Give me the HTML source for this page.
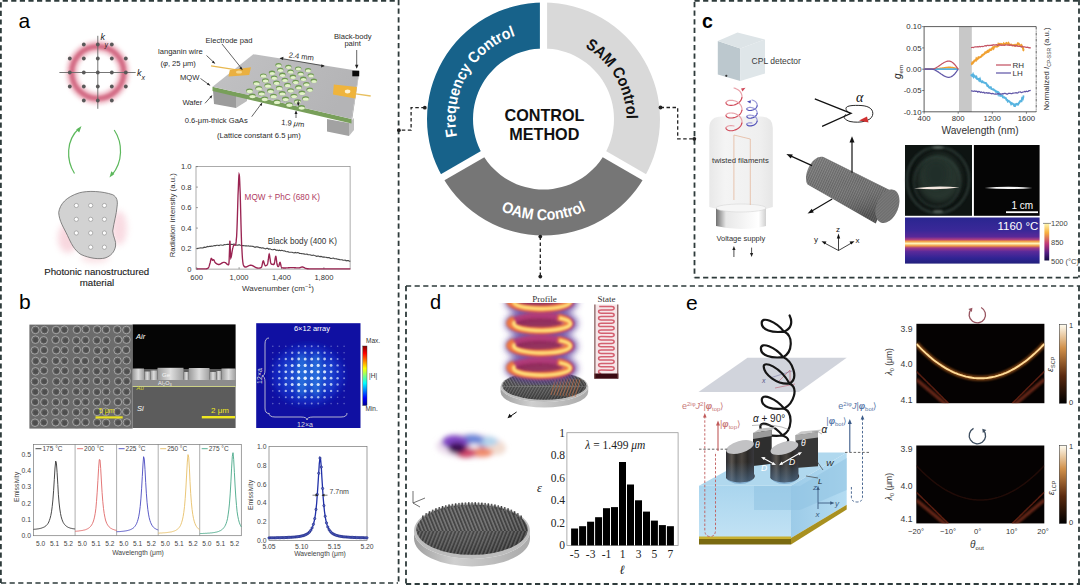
<!DOCTYPE html>
<html><head><meta charset="utf-8">
<style>
html,body{margin:0;padding:0;background:#fff;width:1080px;height:586px;overflow:hidden}
svg{position:absolute;left:0;top:0;display:block}
text{font-family:"Liberation Sans",sans-serif}
.sr{font-family:"Liberation Serif",serif}
</style></head><body>
<svg width="1080" height="586" viewBox="0 0 1080 586">
<defs>
<filter id="blur1" x="-50%" y="-50%" width="200%" height="200%"><feGaussianBlur stdDeviation="1"/></filter>
<filter id="blur2" x="-50%" y="-50%" width="200%" height="200%"><feGaussianBlur stdDeviation="2"/></filter>
<filter id="blur3" x="-50%" y="-50%" width="200%" height="200%"><feGaussianBlur stdDeviation="3"/></filter>
<filter id="blur05" x="-50%" y="-50%" width="200%" height="200%"><feGaussianBlur stdDeviation="0.5"/></filter>
</defs>

<g id="pa"><circle cx="97.8" cy="72.5" r="26" fill="none" stroke="#e8a0b0" stroke-width="10" filter="url(#blur2)" opacity="0.9"/><circle cx="97.8" cy="72.5" r="26" fill="none" stroke="#d47088" stroke-width="4.5" filter="url(#blur1)"/><g stroke="#666" stroke-width="0.9"><line x1="59.4" y1="72.5" x2="135.7" y2="72.5"/><line x1="97.8" y1="35.8" x2="97.8" y2="108.8"/></g><g fill="#595959"><circle cx="69.8" cy="58.5" r="1.9"/><circle cx="69.8" cy="72.5" r="1.9"/><circle cx="69.8" cy="86.5" r="1.9"/><circle cx="83.8" cy="44.5" r="1.9"/><circle cx="83.8" cy="58.5" r="1.9"/><circle cx="83.8" cy="72.5" r="1.9"/><circle cx="83.8" cy="86.5" r="1.9"/><circle cx="83.8" cy="100.5" r="1.9"/><circle cx="97.8" cy="44.5" r="1.9"/><circle cx="97.8" cy="58.5" r="1.9"/><circle cx="97.8" cy="72.5" r="1.9"/><circle cx="97.8" cy="86.5" r="1.9"/><circle cx="97.8" cy="100.5" r="1.9"/><circle cx="111.8" cy="44.5" r="1.9"/><circle cx="111.8" cy="58.5" r="1.9"/><circle cx="111.8" cy="72.5" r="1.9"/><circle cx="111.8" cy="86.5" r="1.9"/><circle cx="111.8" cy="100.5" r="1.9"/><circle cx="125.8" cy="58.5" r="1.9"/><circle cx="125.8" cy="72.5" r="1.9"/><circle cx="125.8" cy="86.5" r="1.9"/></g><g font-style="italic" fill="#222"><text x="100.5" y="40" font-size="9">k</text><text x="104.5" y="46.5" font-size="7">y</text><text x="137" y="76" font-size="9">k</text><text x="141.5" y="80" font-size="7">x</text></g><g fill="none" stroke="#5cb85c" stroke-width="1.2"><path d="M74.5,173.5 C66,160 66,140 79,128.5"/><path d="M114.2,130 C123,143 123,162 111.9,175"/></g><g fill="#5cb85c"><path d="M81.5,126 L79.2,132.5 L76.2,129.6 Z"/><path d="M109.5,177.5 L111.3,171.2 L114.4,174 Z"/></g><g filter="url(#blur3)" opacity="0.45"><ellipse cx="68" cy="238" rx="10" ry="15" fill="#f0a8b8"/><ellipse cx="119" cy="228" rx="8" ry="17" fill="#f2b0c0"/><ellipse cx="95" cy="258" rx="14" ry="5" fill="#f4c0c8"/></g><path d="M58.7,212.4 C60,204 66,197 79.3,192.8 C88,190.5 102,191 112.7,194.7 C117,197 118,201 117,207 C116.5,214 114,222 112.7,231 C113,237 116.5,241 115.6,246 C114.5,252 111,256 105,258 C99,259.5 90,258.5 81,254.5 C74,250 71,243 67.5,235.5 C64,228 59,221 58.7,212.4 Z" fill="#d2d2d2" stroke="#6a6a6a" stroke-width="0.8"/><g fill="#fff" stroke="#8a8a8a" stroke-width="0.6"><circle cx="76.3" cy="205.5" r="2.1"/><circle cx="90.7" cy="205.5" r="2.1"/><circle cx="104.4" cy="205.5" r="2.1"/><circle cx="76.3" cy="219.3" r="2.1"/><circle cx="90.7" cy="219.3" r="2.1"/><circle cx="104.4" cy="219.3" r="2.1"/><circle cx="76.3" cy="233.0" r="2.1"/><circle cx="90.7" cy="233.0" r="2.1"/><circle cx="104.4" cy="233.0" r="2.1"/><circle cx="90.7" cy="247.2" r="2.1"/><circle cx="104.4" cy="247.2" r="2.1"/></g><g fill="#1a1a1a" font-size="9.7" text-anchor="middle" stroke="#1a1a1a" stroke-width="0.12"><text x="96.7" y="274.6">Photonic nanostructured</text><text x="97" y="286.2">material</text></g><path d="M213,90 L236,95 L236,108 L214,104 Z" fill="#9c9c9c"/><path d="M236,95 L247,89 L247,101 L236,108 Z" fill="#bcbcbc"/><path d="M327,119 L349,123 L349,136 L327,131.4 Z" fill="#a2a2a2"/><path d="M349,123 L354,118 L354,130 L349,136 Z" fill="#c0c0c0"/><path d="M212.5,86.7 L351.5,119.0 L351.5,123.4 L212.5,91.1 Z" fill="#789f5a"/><path d="M351.5,119.0 L359.2,71.0 L359.2,73.0 L351.5,123.4 Z" fill="#9a9a9a"/><defs><linearGradient id="slab" x1="0" y1="0" x2="1" y2="0.3"><stop offset="0" stop-color="#c2c2c4"/><stop offset="1" stop-color="#b4b4b6"/></linearGradient><clipPath id="slabclip"><path d="M212.5,86.7 L253.3,54.2 L359.2,71.0 L351.5,123.4 L212.5,91.1 Z"/></clipPath></defs><path d="M212.5,86.7 L253.3,54.2 L359.2,71.0 L351.5,119.0 Z" fill="url(#slab)"/><g clip-path="url(#slabclip)"><ellipse cx="252.3" cy="95.9" rx="3.5" ry="2.3" fill="#6e9a50"/><ellipse cx="252.5" cy="96.6" rx="3.1" ry="1.7" fill="#e2f2c8"/><ellipse cx="264.6" cy="98.8" rx="3.5" ry="2.3" fill="#6e9a50"/><ellipse cx="264.8" cy="99.5" rx="3.1" ry="1.7" fill="#e2f2c8"/><ellipse cx="276.9" cy="101.7" rx="3.5" ry="2.3" fill="#6e9a50"/><ellipse cx="277.1" cy="102.4" rx="3.1" ry="1.7" fill="#e2f2c8"/><ellipse cx="289.2" cy="104.5" rx="3.5" ry="2.3" fill="#6e9a50"/><ellipse cx="289.4" cy="105.2" rx="3.1" ry="1.7" fill="#e2f2c8"/><ellipse cx="301.5" cy="107.4" rx="3.5" ry="2.3" fill="#6e9a50"/><ellipse cx="301.7" cy="108.1" rx="3.1" ry="1.7" fill="#e2f2c8"/><ellipse cx="249.5" cy="90.7" rx="3.4" ry="2.3" fill="#6e9a50"/><ellipse cx="249.7" cy="91.4" rx="3.1" ry="1.7" fill="#e2f2c8"/><ellipse cx="261.5" cy="93.4" rx="3.4" ry="2.3" fill="#6e9a50"/><ellipse cx="261.7" cy="94.1" rx="3.1" ry="1.7" fill="#e2f2c8"/><ellipse cx="273.5" cy="96.1" rx="3.4" ry="2.3" fill="#6e9a50"/><ellipse cx="273.7" cy="96.8" rx="3.1" ry="1.7" fill="#e2f2c8"/><ellipse cx="285.5" cy="98.9" rx="3.4" ry="2.3" fill="#6e9a50"/><ellipse cx="285.7" cy="99.6" rx="3.1" ry="1.7" fill="#e2f2c8"/><ellipse cx="297.5" cy="101.6" rx="3.4" ry="2.3" fill="#6e9a50"/><ellipse cx="297.7" cy="102.3" rx="3.1" ry="1.7" fill="#e2f2c8"/><ellipse cx="258.8" cy="88.2" rx="3.4" ry="2.2" fill="#6e9a50"/><ellipse cx="259.0" cy="88.9" rx="3.0" ry="1.6" fill="#e2f2c8"/><ellipse cx="270.5" cy="90.8" rx="3.4" ry="2.2" fill="#6e9a50"/><ellipse cx="270.7" cy="91.5" rx="3.0" ry="1.6" fill="#e2f2c8"/><ellipse cx="282.2" cy="93.3" rx="3.4" ry="2.2" fill="#6e9a50"/><ellipse cx="282.4" cy="94.0" rx="3.0" ry="1.6" fill="#e2f2c8"/><ellipse cx="293.9" cy="95.9" rx="3.4" ry="2.2" fill="#6e9a50"/><ellipse cx="294.1" cy="96.6" rx="3.0" ry="1.6" fill="#e2f2c8"/><ellipse cx="305.6" cy="98.5" rx="3.4" ry="2.2" fill="#6e9a50"/><ellipse cx="305.8" cy="99.2" rx="3.0" ry="1.6" fill="#e2f2c8"/><ellipse cx="256.4" cy="83.1" rx="3.3" ry="2.2" fill="#6e9a50"/><ellipse cx="256.6" cy="83.8" rx="3.0" ry="1.6" fill="#e2f2c8"/><ellipse cx="267.8" cy="85.5" rx="3.3" ry="2.2" fill="#6e9a50"/><ellipse cx="268.0" cy="86.2" rx="3.0" ry="1.6" fill="#e2f2c8"/><ellipse cx="279.2" cy="88.0" rx="3.3" ry="2.2" fill="#6e9a50"/><ellipse cx="279.4" cy="88.7" rx="3.0" ry="1.6" fill="#e2f2c8"/><ellipse cx="290.6" cy="90.4" rx="3.3" ry="2.2" fill="#6e9a50"/><ellipse cx="290.8" cy="91.1" rx="3.0" ry="1.6" fill="#e2f2c8"/><ellipse cx="301.9" cy="92.8" rx="3.3" ry="2.2" fill="#6e9a50"/><ellipse cx="302.1" cy="93.5" rx="3.0" ry="1.6" fill="#e2f2c8"/><ellipse cx="265.4" cy="80.4" rx="3.3" ry="2.2" fill="#6e9a50"/><ellipse cx="265.6" cy="81.1" rx="2.9" ry="1.6" fill="#e2f2c8"/><ellipse cx="276.5" cy="82.7" rx="3.3" ry="2.2" fill="#6e9a50"/><ellipse cx="276.7" cy="83.4" rx="2.9" ry="1.6" fill="#e2f2c8"/><ellipse cx="287.5" cy="85.0" rx="3.3" ry="2.2" fill="#6e9a50"/><ellipse cx="287.7" cy="85.7" rx="2.9" ry="1.6" fill="#e2f2c8"/><ellipse cx="298.6" cy="87.3" rx="3.3" ry="2.2" fill="#6e9a50"/><ellipse cx="298.8" cy="88.0" rx="2.9" ry="1.6" fill="#e2f2c8"/><ellipse cx="309.7" cy="89.6" rx="3.3" ry="2.2" fill="#6e9a50"/><ellipse cx="309.9" cy="90.3" rx="2.9" ry="1.6" fill="#e2f2c8"/><ellipse cx="263.3" cy="75.5" rx="3.2" ry="2.1" fill="#6e9a50"/><ellipse cx="263.5" cy="76.2" rx="2.9" ry="1.6" fill="#e2f2c8"/><ellipse cx="274.1" cy="77.6" rx="3.2" ry="2.1" fill="#6e9a50"/><ellipse cx="274.3" cy="78.3" rx="2.9" ry="1.6" fill="#e2f2c8"/><ellipse cx="284.8" cy="79.8" rx="3.2" ry="2.1" fill="#6e9a50"/><ellipse cx="285.0" cy="80.5" rx="2.9" ry="1.6" fill="#e2f2c8"/><ellipse cx="295.6" cy="81.9" rx="3.2" ry="2.1" fill="#6e9a50"/><ellipse cx="295.8" cy="82.6" rx="2.9" ry="1.6" fill="#e2f2c8"/><ellipse cx="306.4" cy="84.1" rx="3.2" ry="2.1" fill="#6e9a50"/><ellipse cx="306.6" cy="84.8" rx="2.9" ry="1.6" fill="#e2f2c8"/><ellipse cx="272.0" cy="72.7" rx="3.2" ry="2.1" fill="#6e9a50"/><ellipse cx="272.2" cy="73.4" rx="2.8" ry="1.5" fill="#e2f2c8"/><ellipse cx="282.4" cy="74.7" rx="3.2" ry="2.1" fill="#6e9a50"/><ellipse cx="282.6" cy="75.4" rx="2.8" ry="1.5" fill="#e2f2c8"/><ellipse cx="292.9" cy="76.7" rx="3.2" ry="2.1" fill="#6e9a50"/><ellipse cx="293.1" cy="77.4" rx="2.8" ry="1.5" fill="#e2f2c8"/><ellipse cx="303.3" cy="78.7" rx="3.2" ry="2.1" fill="#6e9a50"/><ellipse cx="303.5" cy="79.4" rx="2.8" ry="1.5" fill="#e2f2c8"/><ellipse cx="313.8" cy="80.7" rx="3.2" ry="2.1" fill="#6e9a50"/><ellipse cx="314.0" cy="81.4" rx="2.8" ry="1.5" fill="#e2f2c8"/><ellipse cx="280.3" cy="69.8" rx="3.1" ry="2.0" fill="#6e9a50"/><ellipse cx="280.5" cy="70.5" rx="2.8" ry="1.5" fill="#e2f2c8"/><ellipse cx="290.5" cy="71.6" rx="3.1" ry="2.0" fill="#6e9a50"/><ellipse cx="290.7" cy="72.3" rx="2.8" ry="1.5" fill="#e2f2c8"/><ellipse cx="300.6" cy="73.5" rx="3.1" ry="2.0" fill="#6e9a50"/><ellipse cx="300.8" cy="74.2" rx="2.8" ry="1.5" fill="#e2f2c8"/><ellipse cx="310.8" cy="75.3" rx="3.1" ry="2.0" fill="#6e9a50"/><ellipse cx="311.0" cy="76.0" rx="2.8" ry="1.5" fill="#e2f2c8"/><ellipse cx="278.5" cy="65.0" rx="3.1" ry="2.0" fill="#6e9a50"/><ellipse cx="278.7" cy="65.7" rx="2.7" ry="1.5" fill="#e2f2c8"/><ellipse cx="288.4" cy="66.7" rx="3.1" ry="2.0" fill="#6e9a50"/><ellipse cx="288.6" cy="67.4" rx="2.7" ry="1.5" fill="#e2f2c8"/><ellipse cx="298.2" cy="68.4" rx="3.1" ry="2.0" fill="#6e9a50"/><ellipse cx="298.4" cy="69.1" rx="2.7" ry="1.5" fill="#e2f2c8"/><ellipse cx="308.1" cy="70.1" rx="3.1" ry="2.0" fill="#6e9a50"/><ellipse cx="308.3" cy="70.8" rx="2.7" ry="1.5" fill="#e2f2c8"/></g><path d="M211,65.8 L238.3,70.2" stroke="#e8b850" stroke-width="1.3"/><path d="M229.8,70 L251,67.3 L249.2,75 L228.5,76.5 Z" fill="#eab040"/><ellipse cx="239" cy="72" rx="3" ry="1.6" fill="#f6d890"/><path d="M355.8,93.8 L370.7,96" stroke="#e8c060" stroke-width="1.3"/><path d="M333.8,84.6 L356.9,86.9 L355.3,98.4 L333,94.5 Z" fill="#efb43c"/><ellipse cx="347.6" cy="91.5" rx="2.8" ry="1.9" fill="#fff2d0"/><rect x="352.3" y="70.7" width="6.9" height="5.6" fill="#0a0a0a"/><g stroke="#222" stroke-width="0.7" fill="none"><path d="M222,44 L242,69"/><path d="M206.5,55.5 L214.5,63"/><path d="M200.5,78.5 L209.5,85"/><path d="M205,103.3 L211.5,96"/><path d="M251.7,116.7 L261.5,103.5"/><path d="M356.7,50 L356.7,67.5"/><path d="M280.5,58.4 L323.8,65.8"/><path d="M296,118 L296,111.5"/><path d="M298.3,100.5 L298.3,105"/></g><g fill="#222"><path d="M242.8,70.2 L239.3,68.3 L241.2,66.8 Z"/><path d="M215.3,63.8 L211.8,62.5 L213.4,60.8 Z"/><path d="M210.5,85.8 L206.8,84.5 L208.2,82.7 Z"/><path d="M212.3,95 L211.3,98.5 L209.5,97 Z"/><path d="M262.3,102.5 L261.6,106 L259.7,104.8 Z"/><path d="M356.7,68.7 L355,64.8 L358.4,64.8 Z"/><path d="M279.5,58.2 L283.5,56.8 L283,60 Z"/><path d="M324.8,66 L321,67.5 L321.4,64.3 Z"/><path d="M296,110.5 L294.5,114 L297.5,114 Z"/><path d="M298.3,106 L296.8,102.5 L299.8,102.5 Z"/></g><g fill="#2a2a2a" font-size="7.6"><text x="205.5" y="42.5">Electrode pad</text><text x="158" y="54">langanin wire</text><text x="160.4" y="65.5">(<tspan font-style="italic">φ</tspan>, 25 μm)</text><text x="180" y="79.5">MQW</text><text x="182.4" y="105">Wafer</text><text x="184.7" y="122.8">0.6-μm-thick GaAs</text><text x="281" y="124.7" transform="rotate(6 281 124.7)">1.9 <tspan font-style="italic">μ</tspan>m</text><text x="217" y="137.8">(Lattice constant 6.5 μm)</text><text x="288.5" y="57.5" transform="rotate(7 288.5 57.5)">2.4 mm</text><text x="334" y="38.5">Black-body</text><text x="344.4" y="46">paint</text></g><rect x="196.0" y="166.6" width="154.1" height="102.5" fill="none" stroke="#888" stroke-width="0.7"/><g stroke="#666" stroke-width="0.6"><line x1="196.0" y1="269.1" x2="198.0" y2="269.1"/><line x1="196.0" y1="248.6" x2="198.0" y2="248.6"/><line x1="196.0" y1="228.1" x2="198.0" y2="228.1"/><line x1="196.0" y1="207.6" x2="198.0" y2="207.6"/><line x1="196.0" y1="187.1" x2="198.0" y2="187.1"/><line x1="196.0" y1="166.6" x2="198.0" y2="166.6"/><line x1="196.7" y1="269.1" x2="196.7" y2="267.1"/><line x1="239.1" y1="269.1" x2="239.1" y2="267.1"/><line x1="281.5" y1="269.1" x2="281.5" y2="267.1"/><line x1="323.9" y1="269.1" x2="323.9" y2="267.1"/></g><g fill="#333" font-size="7.6" text-anchor="end"><text x="191.5" y="271.8">0</text><text x="191.5" y="251.3">0.2</text><text x="191.5" y="230.8">0.4</text><text x="191.5" y="210.3">0.6</text><text x="191.5" y="189.8">0.8</text><text x="191.5" y="169.3">1.0</text></g><g fill="#333" font-size="7.6" text-anchor="middle"><text x="196.7" y="280">600</text><text x="239.1" y="280">1,000</text><text x="281.5" y="280">1,400</text><text x="323.9" y="280">1,800</text></g><text x="278" y="291.3" font-size="8" fill="#333" text-anchor="middle">Wavenumber (cm<tspan dy="-3" font-size="5.5">−1</tspan><tspan dy="3">)</tspan></text><text transform="translate(175,215.3) rotate(-90)" font-size="7.8" fill="#333" text-anchor="middle">Radiation intensity (a.u.)</text><polyline points="196.7,248.8 197.8,248.4 198.8,248.3 199.9,248.0 200.9,247.8 202.0,248.0 203.1,247.9 204.1,247.1 205.2,247.4 206.2,247.2 207.3,246.4 208.4,246.7 209.4,246.2 210.5,246.4 211.5,246.1 212.6,246.3 213.7,245.8 214.7,245.5 215.8,245.6 216.8,245.3 217.9,245.3 219.0,245.6 220.0,245.0 221.1,245.0 222.1,245.2 223.2,245.3 224.3,244.5 225.3,244.8 226.4,244.5 227.4,244.3 228.5,244.4 229.6,244.2 230.6,244.6 231.7,244.3 232.7,244.5 233.8,244.1 234.9,244.3 235.9,245.0 237.0,245.1 238.0,245.2 239.1,244.7 240.2,245.2 241.2,245.2 242.3,245.6 243.3,245.6 244.4,245.8 245.5,245.9 246.5,245.9 247.6,246.0 248.6,245.9 249.7,246.2 250.8,246.1 251.8,246.3 252.9,246.4 253.9,246.8 255.0,247.3 256.1,246.9 257.1,246.9 258.2,247.1 259.2,247.6 260.3,247.6 261.4,248.1 262.4,247.8 263.5,248.1 264.5,248.5 265.6,248.8 266.7,248.3 267.7,248.4 268.8,249.3 269.8,248.8 270.9,249.3 272.0,249.6 273.0,249.7 274.1,249.4 275.1,249.5 276.2,250.3 277.3,250.0 278.3,250.6 279.4,250.2 280.4,250.7 281.5,250.4 282.6,250.5 283.6,251.0 284.7,250.8 285.7,251.5 286.8,251.8 287.9,251.5 288.9,252.2 290.0,252.2 291.0,252.2 292.1,252.2 293.2,252.7 294.2,252.9 295.3,252.4 296.3,253.0 297.4,252.6 298.5,252.8 299.5,253.4 300.6,253.5 301.6,253.6 302.7,253.7 303.8,253.9 304.8,254.1 305.9,254.2 306.9,254.1 308.0,254.6 309.1,254.8 310.1,254.7 311.2,255.3 312.2,255.4 313.3,255.0 314.4,255.5 315.4,255.7 316.5,256.3 317.5,256.1 318.6,256.1 319.7,256.7 320.7,256.4 321.8,256.6 322.8,257.2 323.9,256.9 325.0,257.2 326.0,257.2 327.1,257.6 328.1,257.5 329.2,257.6 330.3,258.4 331.3,258.5 332.4,258.2 333.4,258.1 334.5,258.8 335.6,258.8 336.6,258.9 337.7,259.3 338.7,259.4 339.8,259.6 340.9,259.7 341.9,259.7 343.0,260.1 344.0,260.2 345.1,260.0 346.2,260.8 347.2,260.5 348.3,260.6 349.3,261.1 350.4,261.3" fill="none" stroke="#4a4a4a" stroke-width="1.1"/><polyline points="196.7,268.8 196.9,268.8 197.1,268.8 197.3,268.8 197.5,268.8 197.8,268.8 198.0,268.8 198.2,268.8 198.4,268.8 198.6,268.8 198.8,268.8 199.0,268.8 199.2,268.8 199.5,268.8 199.7,268.8 199.9,268.8 200.1,268.8 200.3,268.8 200.5,268.8 200.7,268.8 200.9,268.8 201.2,268.8 201.4,268.8 201.6,268.8 201.8,268.8 202.0,268.8 202.2,268.8 202.4,268.8 202.6,268.8 202.8,268.8 203.1,268.8 203.3,268.8 203.5,268.8 203.7,268.8 203.9,268.8 204.1,268.8 204.3,268.8 204.5,268.8 204.8,268.8 205.0,268.8 205.2,268.8 205.4,268.8 205.6,268.8 205.8,268.8 206.0,268.8 206.2,268.8 206.5,268.7 206.7,268.7 206.9,268.7 207.1,268.6 207.3,268.6 207.5,268.5 207.7,268.4 207.9,268.2 208.1,268.0 208.4,267.8 208.6,267.4 208.8,267.0 209.0,266.5 209.2,265.9 209.4,265.3 209.6,264.6 209.8,263.8 210.1,263.0 210.3,262.1 210.5,261.2 210.7,260.2 210.9,259.3 211.1,258.6 211.3,258.3 211.5,258.3 211.8,258.8 212.0,259.3 212.2,259.8 212.4,260.2 212.6,260.3 212.8,260.2 213.0,260.0 213.2,259.8 213.4,259.7 213.7,259.8 213.9,260.0 214.1,260.3 214.3,260.8 214.5,261.3 214.7,261.7 214.9,262.1 215.1,262.5 215.4,262.7 215.6,263.0 215.8,263.2 216.0,263.3 216.2,263.5 216.4,263.6 216.6,263.8 216.8,263.9 217.1,264.0 217.3,264.1 217.5,264.2 217.7,264.3 217.9,264.4 218.1,264.4 218.3,264.5 218.5,264.5 218.7,264.5 219.0,264.5 219.2,264.5 219.4,264.4 219.6,264.4 219.8,264.3 220.0,264.2 220.2,264.1 220.4,264.0 220.7,263.9 220.9,263.8 221.1,263.6 221.3,263.5 221.5,263.3 221.7,263.2 221.9,263.1 222.1,262.9 222.4,262.8 222.6,262.7 222.8,262.6 223.0,262.5 223.2,262.4 223.4,262.3 223.6,262.3 223.8,262.3 224.0,262.3 224.3,262.3 224.5,262.3 224.7,262.4 224.9,262.5 225.1,262.6 225.3,262.7 225.5,262.8 225.7,263.0 226.0,263.1 226.2,263.3 226.4,263.5 226.6,263.7 226.8,263.9 227.0,264.1 227.2,264.2 227.4,264.4 227.7,264.5 227.9,264.6 228.1,264.7 228.3,264.7 228.5,264.7 228.7,264.4 228.9,263.6 229.1,261.1 229.3,255.6 229.6,247.8 229.8,241.3 230.0,240.7 230.2,245.9 230.4,252.5 230.6,256.7 230.8,258.0 231.0,257.6 231.3,256.6 231.5,255.4 231.7,254.2 231.9,252.9 232.1,251.7 232.3,250.5 232.5,249.3 232.7,248.3 233.0,247.4 233.2,246.6 233.4,246.0 233.6,245.5 233.8,245.1 234.0,244.9 234.2,244.9 234.4,244.9 234.6,245.0 234.9,245.2 235.1,245.3 235.3,245.2 235.5,245.0 235.7,244.4 235.9,243.4 236.1,241.9 236.3,239.6 236.6,236.7 236.8,232.8 237.0,228.2 237.2,222.7 237.4,216.4 237.6,209.7 237.8,202.7 238.0,195.7 238.3,189.1 238.5,183.4 238.7,178.8 238.9,175.7 239.1,174.3 239.3,174.8 239.5,177.0 239.7,181.0 239.9,186.5 240.2,193.2 240.4,200.7 240.6,208.6 240.8,216.6 241.0,224.4 241.2,231.6 241.4,238.2 241.6,244.0 241.9,248.9 242.1,253.0 242.3,256.3 242.5,259.0 242.7,261.0 242.9,262.6 243.1,263.8 243.3,264.7 243.6,265.4 243.8,265.9 244.0,266.2 244.2,266.5 244.4,266.7 244.6,266.8 244.8,266.9 245.0,267.0 245.2,267.0 245.5,267.0 245.7,267.0 245.9,267.0 246.1,267.0 246.3,266.9 246.5,266.8 246.7,266.8 246.9,266.7 247.2,266.6 247.4,266.5 247.6,266.4 247.8,266.2 248.0,266.1 248.2,266.0 248.4,265.9 248.6,265.8 248.9,265.7 249.1,265.6 249.3,265.5 249.5,265.4 249.7,265.4 249.9,265.3 250.1,265.3 250.3,265.2 250.5,265.2 250.8,265.2 251.0,265.2 251.2,265.2 251.4,265.3 251.6,265.3 251.8,265.4 252.0,265.4 252.2,265.5 252.5,265.6 252.7,265.7 252.9,265.8 253.1,265.9 253.3,266.1 253.5,266.2 253.7,266.3 253.9,266.4 254.2,266.6 254.4,266.7 254.6,266.8 254.8,267.0 255.0,267.1 255.2,267.2 255.4,267.3 255.6,267.4 255.8,267.5 256.1,267.6 256.3,267.7 256.5,267.8 256.7,267.8 256.9,267.9 257.1,268.0 257.3,268.0 257.5,268.0 257.8,268.1 258.0,268.1 258.2,268.1 258.4,268.1 258.6,268.1 258.8,268.1 259.0,268.1 259.2,268.1 259.5,268.1 259.7,268.1 259.9,268.0 260.1,268.0 260.3,267.9 260.5,267.9 260.7,267.8 260.9,267.7 261.1,267.5 261.4,267.3 261.6,266.9 261.8,266.3 262.0,265.6 262.2,264.7 262.4,263.7 262.6,262.7 262.8,261.7 263.1,261.1 263.3,260.8 263.5,260.9 263.7,261.4 263.9,262.1 264.1,262.9 264.3,263.8 264.5,264.5 264.8,265.0 265.0,265.4 265.2,265.6 265.4,265.7 265.6,265.7 265.8,265.7 266.0,265.6 266.2,265.5 266.4,265.4 266.7,265.3 266.9,265.1 267.1,264.9 267.3,264.6 267.5,264.2 267.7,263.4 267.9,262.4 268.1,260.9 268.4,259.2 268.6,257.4 268.8,255.8 269.0,254.6 269.2,254.1 269.4,254.5 269.6,255.6 269.8,257.1 270.1,258.8 270.3,260.4 270.5,261.8 270.7,262.7 270.9,263.4 271.1,263.8 271.3,264.0 271.5,264.1 271.7,264.2 272.0,264.2 272.2,264.3 272.4,264.3 272.6,264.4 272.8,264.4 273.0,264.5 273.2,264.5 273.4,264.5 273.7,264.5 273.9,264.4 274.1,264.1 274.3,263.6 274.5,262.8 274.7,261.7 274.9,260.3 275.1,258.9 275.4,257.5 275.6,256.6 275.8,256.4 276.0,256.8 276.2,257.9 276.4,259.5 276.6,261.1 276.8,262.7 277.0,264.0 277.3,265.0 277.5,265.7 277.7,266.1 277.9,266.4 278.1,266.5 278.3,266.5 278.5,266.4 278.7,266.1 279.0,265.5 279.2,264.8 279.4,263.9 279.6,263.1 279.8,262.4 280.0,262.3 280.2,262.6 280.4,263.3 280.7,264.3 280.9,265.3 281.1,266.2 281.3,266.8 281.5,267.3 281.7,267.6 281.9,267.7 282.1,267.8 282.3,267.9 282.6,267.9 282.8,267.9 283.0,267.9 283.2,268.0 283.4,268.0 283.6,268.0 283.8,268.0 284.0,268.0 284.3,268.0 284.5,268.0 284.7,268.0 284.9,268.0 285.1,268.0 285.3,268.0 285.5,268.0 285.7,268.0 286.0,267.9 286.2,267.9 286.4,267.9 286.6,267.9 286.8,267.9 287.0,267.9 287.2,267.8 287.4,267.8 287.6,267.8 287.9,267.8 288.1,267.8 288.3,267.7 288.5,267.7 288.7,267.7 288.9,267.7 289.1,267.7 289.3,267.7 289.6,267.6 289.8,267.6 290.0,267.6 290.2,267.6 290.4,267.6 290.6,267.6 290.8,267.6 291.0,267.6 291.3,267.6 291.5,267.6 291.7,267.6 291.9,267.6 292.1,267.6 292.3,267.6 292.5,267.6 292.7,267.6 292.9,267.6 293.2,267.6 293.4,267.6 293.6,267.6 293.8,267.6 294.0,267.6 294.2,267.6 294.4,267.7 294.6,267.7 294.9,267.7 295.1,267.7 295.3,267.7 295.5,267.7 295.7,267.8 295.9,267.8 296.1,267.8 296.3,267.8 296.6,267.8 296.8,267.9 297.0,267.9 297.2,267.9 297.4,267.9 297.6,267.9 297.8,267.9 298.0,267.9 298.2,267.9 298.5,267.9 298.7,267.9 298.9,267.9 299.1,267.9 299.3,267.8 299.5,267.8 299.7,267.7 299.9,267.7 300.2,267.6 300.4,267.5 300.6,267.4 300.8,267.3 301.0,267.3 301.2,267.2 301.4,267.1 301.6,267.1 301.9,267.0 302.1,267.0 302.3,267.0 302.5,267.0 302.7,267.0 302.9,267.1 303.1,267.1 303.3,267.2 303.5,267.3 303.8,267.4 304.0,267.5 304.2,267.6 304.4,267.7 304.6,267.8 304.8,268.0 305.0,268.1 305.2,268.2 305.5,268.3 305.7,268.3 305.9,268.4 306.1,268.5 306.3,268.5 306.5,268.6 306.7,268.6 306.9,268.6 307.2,268.7 307.4,268.7 307.6,268.7 307.8,268.7 308.0,268.7 308.2,268.7 308.4,268.8 308.6,268.8 308.8,268.8 309.1,268.8 309.3,268.8 309.5,268.8 309.7,268.8 309.9,268.8 310.1,268.8 310.3,268.8 310.5,268.8 310.8,268.8 311.0,268.8 311.2,268.8 311.4,268.8 311.6,268.8 311.8,268.8 312.0,268.8 312.2,268.8 312.5,268.8 312.7,268.8 312.9,268.8 313.1,268.8 313.3,268.8 313.5,268.8 313.7,268.8 313.9,268.8 314.1,268.8 314.4,268.8 314.6,268.8 314.8,268.8 315.0,268.8 315.2,268.8 315.4,268.8 315.6,268.8 315.8,268.8 316.1,268.8 316.3,268.8 316.5,268.8 316.7,268.8 316.9,268.8 317.1,268.8 317.3,268.8 317.5,268.8 317.8,268.8 318.0,268.8 318.2,268.8 318.4,268.8 318.6,268.8 318.8,268.8 319.0,268.8 319.2,268.8 319.4,268.8 319.7,268.8 319.9,268.8 320.1,268.8 320.3,268.8 320.5,268.8 320.7,268.8 320.9,268.8 321.1,268.8 321.4,268.8 321.6,268.8 321.8,268.8 322.0,268.8 322.2,268.8 322.4,268.8 322.6,268.8 322.8,268.8 323.1,268.8 323.3,268.8 323.5,268.8 323.7,268.8 323.9,268.8 324.1,268.8 324.3,268.8 324.5,268.8 324.7,268.8 325.0,268.8 325.2,268.8 325.4,268.8 325.6,268.8 325.8,268.8 326.0,268.8 326.2,268.8 326.4,268.8 326.7,268.8 326.9,268.8 327.1,268.8 327.3,268.8 327.5,268.8 327.7,268.8 327.9,268.8 328.1,268.8 328.4,268.8 328.6,268.8 328.8,268.8 329.0,268.8 329.2,268.8 329.4,268.8 329.6,268.8 329.8,268.8 330.0,268.8 330.3,268.8 330.5,268.8 330.7,268.8 330.9,268.8 331.1,268.8 331.3,268.8 331.5,268.8 331.7,268.8 332.0,268.8 332.2,268.8 332.4,268.8 332.6,268.8 332.8,268.8 333.0,268.8 333.2,268.8 333.4,268.8 333.7,268.8 333.9,268.8 334.1,268.8 334.3,268.8 334.5,268.8 334.7,268.8 334.9,268.8 335.1,268.8 335.3,268.8 335.6,268.8 335.8,268.8 336.0,268.8 336.2,268.8 336.4,268.8 336.6,268.8 336.8,268.8 337.0,268.8 337.3,268.8 337.5,268.8 337.7,268.8 337.9,268.8 338.1,268.8 338.3,268.8 338.5,268.8 338.7,268.8 339.0,268.8 339.2,268.8 339.4,268.8 339.6,268.8 339.8,268.8 340.0,268.8 340.2,268.8 340.4,268.8 340.6,268.8 340.9,268.8 341.1,268.8 341.3,268.8 341.5,268.8 341.7,268.8 341.9,268.8 342.1,268.8 342.3,268.8 342.6,268.8 342.8,268.8 343.0,268.8 343.2,268.8 343.4,268.8 343.6,268.8 343.8,268.8 344.0,268.8 344.3,268.8 344.5,268.8 344.7,268.8 344.9,268.8 345.1,268.8 345.3,268.8 345.5,268.8 345.7,268.8 345.9,268.8 346.2,268.8 346.4,268.8 346.6,268.8 346.8,268.8 347.0,268.8 347.2,268.8 347.4,268.8 347.6,268.8 347.9,268.8 348.1,268.8 348.3,268.8 348.5,268.8 348.7,268.8 348.9,268.8 349.1,268.8 349.3,268.8 349.6,268.8 349.8,268.8 350.0,268.8 350.2,268.8 350.4,268.8" fill="none" stroke="#9a2452" stroke-width="1.35"/><text x="244.6" y="199.7" font-size="8.2" fill="#b03a62">MQW + PhC (680 K)</text><text x="267.7" y="243.7" font-size="8.2" fill="#333">Black body (400 K)</text></g><g id="pb"><rect x="29.4" y="324.6" width="103.2" height="104.0" fill="#6c6c6c"/><defs><clipPath id="semclip"><rect x="29.4" y="324.6" width="103.2" height="104"/></clipPath></defs><g clip-path="url(#semclip)"><circle cx="35.4" cy="329.9" r="3.8" fill="#5e5e5e" stroke="#b4b4b4" stroke-width="0.8"/><circle cx="35.7" cy="330.2" r="2.2" fill="#4e4e4e"/><circle cx="44.5" cy="330.1" r="3.8" fill="#5e5e5e" stroke="#b4b4b4" stroke-width="0.8"/><circle cx="44.8" cy="330.4" r="2.2" fill="#4e4e4e"/><circle cx="56.1" cy="330.0" r="3.8" fill="#5e5e5e" stroke="#b4b4b4" stroke-width="0.8"/><circle cx="56.4" cy="330.3" r="2.2" fill="#4e4e4e"/><circle cx="64.3" cy="329.7" r="3.8" fill="#5e5e5e" stroke="#b4b4b4" stroke-width="0.8"/><circle cx="64.6" cy="330.0" r="2.2" fill="#4e4e4e"/><circle cx="76.9" cy="329.8" r="3.8" fill="#5e5e5e" stroke="#b4b4b4" stroke-width="0.8"/><circle cx="77.2" cy="330.1" r="2.2" fill="#4e4e4e"/><circle cx="85.8" cy="329.4" r="3.8" fill="#5e5e5e" stroke="#b4b4b4" stroke-width="0.8"/><circle cx="86.1" cy="329.7" r="2.2" fill="#4e4e4e"/><circle cx="97.1" cy="329.5" r="3.8" fill="#5e5e5e" stroke="#b4b4b4" stroke-width="0.8"/><circle cx="97.4" cy="329.8" r="2.2" fill="#4e4e4e"/><circle cx="106.0" cy="329.8" r="3.8" fill="#5e5e5e" stroke="#b4b4b4" stroke-width="0.8"/><circle cx="106.3" cy="330.1" r="2.2" fill="#4e4e4e"/><circle cx="117.2" cy="329.5" r="3.8" fill="#5e5e5e" stroke="#b4b4b4" stroke-width="0.8"/><circle cx="117.5" cy="329.8" r="2.2" fill="#4e4e4e"/><circle cx="126.4" cy="330.0" r="3.8" fill="#5e5e5e" stroke="#b4b4b4" stroke-width="0.8"/><circle cx="126.7" cy="330.3" r="2.2" fill="#4e4e4e"/><circle cx="138.6" cy="329.4" r="3.8" fill="#5e5e5e" stroke="#b4b4b4" stroke-width="0.8"/><circle cx="138.9" cy="329.7" r="2.2" fill="#4e4e4e"/><circle cx="147.5" cy="329.4" r="3.8" fill="#5e5e5e" stroke="#b4b4b4" stroke-width="0.8"/><circle cx="147.8" cy="329.7" r="2.2" fill="#4e4e4e"/><circle cx="35.4" cy="339.7" r="3.8" fill="#5e5e5e" stroke="#b4b4b4" stroke-width="0.8"/><circle cx="35.7" cy="340.0" r="2.2" fill="#4e4e4e"/><circle cx="43.7" cy="340.3" r="3.8" fill="#5e5e5e" stroke="#b4b4b4" stroke-width="0.8"/><circle cx="44.0" cy="340.6" r="2.2" fill="#4e4e4e"/><circle cx="55.6" cy="339.8" r="3.8" fill="#5e5e5e" stroke="#b4b4b4" stroke-width="0.8"/><circle cx="55.9" cy="340.1" r="2.2" fill="#4e4e4e"/><circle cx="65.3" cy="340.3" r="3.8" fill="#5e5e5e" stroke="#b4b4b4" stroke-width="0.8"/><circle cx="65.6" cy="340.6" r="2.2" fill="#4e4e4e"/><circle cx="76.3" cy="340.4" r="3.8" fill="#5e5e5e" stroke="#b4b4b4" stroke-width="0.8"/><circle cx="76.6" cy="340.7" r="2.2" fill="#4e4e4e"/><circle cx="85.4" cy="340.1" r="3.8" fill="#5e5e5e" stroke="#b4b4b4" stroke-width="0.8"/><circle cx="85.7" cy="340.4" r="2.2" fill="#4e4e4e"/><circle cx="96.8" cy="340.4" r="3.8" fill="#5e5e5e" stroke="#b4b4b4" stroke-width="0.8"/><circle cx="97.1" cy="340.7" r="2.2" fill="#4e4e4e"/><circle cx="106.2" cy="340.4" r="3.8" fill="#5e5e5e" stroke="#b4b4b4" stroke-width="0.8"/><circle cx="106.5" cy="340.7" r="2.2" fill="#4e4e4e"/><circle cx="118.1" cy="339.8" r="3.8" fill="#5e5e5e" stroke="#b4b4b4" stroke-width="0.8"/><circle cx="118.4" cy="340.1" r="2.2" fill="#4e4e4e"/><circle cx="126.5" cy="339.7" r="3.8" fill="#5e5e5e" stroke="#b4b4b4" stroke-width="0.8"/><circle cx="126.8" cy="340.0" r="2.2" fill="#4e4e4e"/><circle cx="137.9" cy="339.7" r="3.8" fill="#5e5e5e" stroke="#b4b4b4" stroke-width="0.8"/><circle cx="138.2" cy="340.0" r="2.2" fill="#4e4e4e"/><circle cx="147.0" cy="340.1" r="3.8" fill="#5e5e5e" stroke="#b4b4b4" stroke-width="0.8"/><circle cx="147.3" cy="340.4" r="2.2" fill="#4e4e4e"/><circle cx="34.8" cy="350.4" r="3.8" fill="#5e5e5e" stroke="#b4b4b4" stroke-width="0.8"/><circle cx="35.1" cy="350.7" r="2.2" fill="#4e4e4e"/><circle cx="44.0" cy="350.1" r="3.8" fill="#5e5e5e" stroke="#b4b4b4" stroke-width="0.8"/><circle cx="44.3" cy="350.4" r="2.2" fill="#4e4e4e"/><circle cx="56.2" cy="350.3" r="3.8" fill="#5e5e5e" stroke="#b4b4b4" stroke-width="0.8"/><circle cx="56.5" cy="350.6" r="2.2" fill="#4e4e4e"/><circle cx="64.6" cy="350.3" r="3.8" fill="#5e5e5e" stroke="#b4b4b4" stroke-width="0.8"/><circle cx="64.9" cy="350.6" r="2.2" fill="#4e4e4e"/><circle cx="76.7" cy="349.9" r="3.8" fill="#5e5e5e" stroke="#b4b4b4" stroke-width="0.8"/><circle cx="77.0" cy="350.2" r="2.2" fill="#4e4e4e"/><circle cx="85.9" cy="349.9" r="3.8" fill="#5e5e5e" stroke="#b4b4b4" stroke-width="0.8"/><circle cx="86.2" cy="350.2" r="2.2" fill="#4e4e4e"/><circle cx="97.3" cy="350.6" r="3.8" fill="#5e5e5e" stroke="#b4b4b4" stroke-width="0.8"/><circle cx="97.6" cy="350.9" r="2.2" fill="#4e4e4e"/><circle cx="105.5" cy="350.5" r="3.8" fill="#5e5e5e" stroke="#b4b4b4" stroke-width="0.8"/><circle cx="105.8" cy="350.8" r="2.2" fill="#4e4e4e"/><circle cx="117.6" cy="350.4" r="3.8" fill="#5e5e5e" stroke="#b4b4b4" stroke-width="0.8"/><circle cx="117.9" cy="350.7" r="2.2" fill="#4e4e4e"/><circle cx="126.1" cy="349.9" r="3.8" fill="#5e5e5e" stroke="#b4b4b4" stroke-width="0.8"/><circle cx="126.4" cy="350.2" r="2.2" fill="#4e4e4e"/><circle cx="138.0" cy="350.7" r="3.8" fill="#5e5e5e" stroke="#b4b4b4" stroke-width="0.8"/><circle cx="138.3" cy="351.0" r="2.2" fill="#4e4e4e"/><circle cx="146.9" cy="350.5" r="3.8" fill="#5e5e5e" stroke="#b4b4b4" stroke-width="0.8"/><circle cx="147.2" cy="350.8" r="2.2" fill="#4e4e4e"/><circle cx="35.7" cy="361.0" r="3.8" fill="#5e5e5e" stroke="#b4b4b4" stroke-width="0.8"/><circle cx="36.0" cy="361.3" r="2.2" fill="#4e4e4e"/><circle cx="44.0" cy="360.5" r="3.8" fill="#5e5e5e" stroke="#b4b4b4" stroke-width="0.8"/><circle cx="44.3" cy="360.8" r="2.2" fill="#4e4e4e"/><circle cx="55.9" cy="360.8" r="3.8" fill="#5e5e5e" stroke="#b4b4b4" stroke-width="0.8"/><circle cx="56.2" cy="361.1" r="2.2" fill="#4e4e4e"/><circle cx="64.4" cy="360.8" r="3.8" fill="#5e5e5e" stroke="#b4b4b4" stroke-width="0.8"/><circle cx="64.7" cy="361.1" r="2.2" fill="#4e4e4e"/><circle cx="76.8" cy="360.9" r="3.8" fill="#5e5e5e" stroke="#b4b4b4" stroke-width="0.8"/><circle cx="77.1" cy="361.2" r="2.2" fill="#4e4e4e"/><circle cx="84.9" cy="361.0" r="3.8" fill="#5e5e5e" stroke="#b4b4b4" stroke-width="0.8"/><circle cx="85.2" cy="361.3" r="2.2" fill="#4e4e4e"/><circle cx="96.7" cy="360.5" r="3.8" fill="#5e5e5e" stroke="#b4b4b4" stroke-width="0.8"/><circle cx="97.0" cy="360.8" r="2.2" fill="#4e4e4e"/><circle cx="106.1" cy="360.9" r="3.8" fill="#5e5e5e" stroke="#b4b4b4" stroke-width="0.8"/><circle cx="106.4" cy="361.2" r="2.2" fill="#4e4e4e"/><circle cx="117.5" cy="360.9" r="3.8" fill="#5e5e5e" stroke="#b4b4b4" stroke-width="0.8"/><circle cx="117.8" cy="361.2" r="2.2" fill="#4e4e4e"/><circle cx="126.6" cy="360.4" r="3.8" fill="#5e5e5e" stroke="#b4b4b4" stroke-width="0.8"/><circle cx="126.9" cy="360.7" r="2.2" fill="#4e4e4e"/><circle cx="138.1" cy="360.3" r="3.8" fill="#5e5e5e" stroke="#b4b4b4" stroke-width="0.8"/><circle cx="138.4" cy="360.6" r="2.2" fill="#4e4e4e"/><circle cx="146.8" cy="360.3" r="3.8" fill="#5e5e5e" stroke="#b4b4b4" stroke-width="0.8"/><circle cx="147.1" cy="360.6" r="2.2" fill="#4e4e4e"/><circle cx="35.5" cy="371.3" r="3.8" fill="#5e5e5e" stroke="#b4b4b4" stroke-width="0.8"/><circle cx="35.8" cy="371.6" r="2.2" fill="#4e4e4e"/><circle cx="43.9" cy="370.5" r="3.8" fill="#5e5e5e" stroke="#b4b4b4" stroke-width="0.8"/><circle cx="44.2" cy="370.8" r="2.2" fill="#4e4e4e"/><circle cx="56.4" cy="370.9" r="3.8" fill="#5e5e5e" stroke="#b4b4b4" stroke-width="0.8"/><circle cx="56.7" cy="371.2" r="2.2" fill="#4e4e4e"/><circle cx="64.7" cy="370.7" r="3.8" fill="#5e5e5e" stroke="#b4b4b4" stroke-width="0.8"/><circle cx="65.0" cy="371.0" r="2.2" fill="#4e4e4e"/><circle cx="76.6" cy="371.2" r="3.8" fill="#5e5e5e" stroke="#b4b4b4" stroke-width="0.8"/><circle cx="76.9" cy="371.5" r="2.2" fill="#4e4e4e"/><circle cx="85.4" cy="370.8" r="3.8" fill="#5e5e5e" stroke="#b4b4b4" stroke-width="0.8"/><circle cx="85.7" cy="371.1" r="2.2" fill="#4e4e4e"/><circle cx="96.7" cy="371.2" r="3.8" fill="#5e5e5e" stroke="#b4b4b4" stroke-width="0.8"/><circle cx="97.0" cy="371.5" r="2.2" fill="#4e4e4e"/><circle cx="105.5" cy="370.9" r="3.8" fill="#5e5e5e" stroke="#b4b4b4" stroke-width="0.8"/><circle cx="105.8" cy="371.2" r="2.2" fill="#4e4e4e"/><circle cx="118.0" cy="370.6" r="3.8" fill="#5e5e5e" stroke="#b4b4b4" stroke-width="0.8"/><circle cx="118.3" cy="370.9" r="2.2" fill="#4e4e4e"/><circle cx="126.8" cy="371.3" r="3.8" fill="#5e5e5e" stroke="#b4b4b4" stroke-width="0.8"/><circle cx="127.1" cy="371.6" r="2.2" fill="#4e4e4e"/><circle cx="138.4" cy="371.1" r="3.8" fill="#5e5e5e" stroke="#b4b4b4" stroke-width="0.8"/><circle cx="138.7" cy="371.4" r="2.2" fill="#4e4e4e"/><circle cx="146.8" cy="370.8" r="3.8" fill="#5e5e5e" stroke="#b4b4b4" stroke-width="0.8"/><circle cx="147.1" cy="371.1" r="2.2" fill="#4e4e4e"/><circle cx="34.9" cy="381.5" r="3.8" fill="#5e5e5e" stroke="#b4b4b4" stroke-width="0.8"/><circle cx="35.2" cy="381.8" r="2.2" fill="#4e4e4e"/><circle cx="44.0" cy="381.2" r="3.8" fill="#5e5e5e" stroke="#b4b4b4" stroke-width="0.8"/><circle cx="44.3" cy="381.5" r="2.2" fill="#4e4e4e"/><circle cx="56.4" cy="381.5" r="3.8" fill="#5e5e5e" stroke="#b4b4b4" stroke-width="0.8"/><circle cx="56.7" cy="381.8" r="2.2" fill="#4e4e4e"/><circle cx="65.3" cy="381.2" r="3.8" fill="#5e5e5e" stroke="#b4b4b4" stroke-width="0.8"/><circle cx="65.6" cy="381.5" r="2.2" fill="#4e4e4e"/><circle cx="76.5" cy="381.4" r="3.8" fill="#5e5e5e" stroke="#b4b4b4" stroke-width="0.8"/><circle cx="76.8" cy="381.7" r="2.2" fill="#4e4e4e"/><circle cx="85.4" cy="381.0" r="3.8" fill="#5e5e5e" stroke="#b4b4b4" stroke-width="0.8"/><circle cx="85.7" cy="381.3" r="2.2" fill="#4e4e4e"/><circle cx="97.0" cy="380.9" r="3.8" fill="#5e5e5e" stroke="#b4b4b4" stroke-width="0.8"/><circle cx="97.3" cy="381.2" r="2.2" fill="#4e4e4e"/><circle cx="105.9" cy="381.6" r="3.8" fill="#5e5e5e" stroke="#b4b4b4" stroke-width="0.8"/><circle cx="106.2" cy="381.9" r="2.2" fill="#4e4e4e"/><circle cx="118.2" cy="381.3" r="3.8" fill="#5e5e5e" stroke="#b4b4b4" stroke-width="0.8"/><circle cx="118.5" cy="381.6" r="2.2" fill="#4e4e4e"/><circle cx="126.6" cy="381.1" r="3.8" fill="#5e5e5e" stroke="#b4b4b4" stroke-width="0.8"/><circle cx="126.9" cy="381.4" r="2.2" fill="#4e4e4e"/><circle cx="137.9" cy="381.0" r="3.8" fill="#5e5e5e" stroke="#b4b4b4" stroke-width="0.8"/><circle cx="138.2" cy="381.3" r="2.2" fill="#4e4e4e"/><circle cx="147.5" cy="381.5" r="3.8" fill="#5e5e5e" stroke="#b4b4b4" stroke-width="0.8"/><circle cx="147.8" cy="381.8" r="2.2" fill="#4e4e4e"/><circle cx="35.2" cy="391.7" r="3.8" fill="#5e5e5e" stroke="#b4b4b4" stroke-width="0.8"/><circle cx="35.5" cy="392.0" r="2.2" fill="#4e4e4e"/><circle cx="44.5" cy="391.7" r="3.8" fill="#5e5e5e" stroke="#b4b4b4" stroke-width="0.8"/><circle cx="44.8" cy="392.0" r="2.2" fill="#4e4e4e"/><circle cx="56.1" cy="391.7" r="3.8" fill="#5e5e5e" stroke="#b4b4b4" stroke-width="0.8"/><circle cx="56.4" cy="392.0" r="2.2" fill="#4e4e4e"/><circle cx="64.7" cy="391.7" r="3.8" fill="#5e5e5e" stroke="#b4b4b4" stroke-width="0.8"/><circle cx="65.0" cy="392.0" r="2.2" fill="#4e4e4e"/><circle cx="76.3" cy="391.5" r="3.8" fill="#5e5e5e" stroke="#b4b4b4" stroke-width="0.8"/><circle cx="76.6" cy="391.8" r="2.2" fill="#4e4e4e"/><circle cx="85.7" cy="391.7" r="3.8" fill="#5e5e5e" stroke="#b4b4b4" stroke-width="0.8"/><circle cx="86.0" cy="392.0" r="2.2" fill="#4e4e4e"/><circle cx="96.9" cy="391.9" r="3.8" fill="#5e5e5e" stroke="#b4b4b4" stroke-width="0.8"/><circle cx="97.2" cy="392.2" r="2.2" fill="#4e4e4e"/><circle cx="106.1" cy="391.6" r="3.8" fill="#5e5e5e" stroke="#b4b4b4" stroke-width="0.8"/><circle cx="106.4" cy="391.9" r="2.2" fill="#4e4e4e"/><circle cx="117.2" cy="391.5" r="3.8" fill="#5e5e5e" stroke="#b4b4b4" stroke-width="0.8"/><circle cx="117.5" cy="391.8" r="2.2" fill="#4e4e4e"/><circle cx="126.4" cy="391.6" r="3.8" fill="#5e5e5e" stroke="#b4b4b4" stroke-width="0.8"/><circle cx="126.7" cy="391.9" r="2.2" fill="#4e4e4e"/><circle cx="138.3" cy="391.8" r="3.8" fill="#5e5e5e" stroke="#b4b4b4" stroke-width="0.8"/><circle cx="138.6" cy="392.1" r="2.2" fill="#4e4e4e"/><circle cx="147.3" cy="391.7" r="3.8" fill="#5e5e5e" stroke="#b4b4b4" stroke-width="0.8"/><circle cx="147.6" cy="392.0" r="2.2" fill="#4e4e4e"/><circle cx="35.1" cy="401.9" r="3.8" fill="#5e5e5e" stroke="#b4b4b4" stroke-width="0.8"/><circle cx="35.4" cy="402.2" r="2.2" fill="#4e4e4e"/><circle cx="44.4" cy="402.1" r="3.8" fill="#5e5e5e" stroke="#b4b4b4" stroke-width="0.8"/><circle cx="44.7" cy="402.4" r="2.2" fill="#4e4e4e"/><circle cx="55.8" cy="402.1" r="3.8" fill="#5e5e5e" stroke="#b4b4b4" stroke-width="0.8"/><circle cx="56.1" cy="402.4" r="2.2" fill="#4e4e4e"/><circle cx="65.2" cy="402.0" r="3.8" fill="#5e5e5e" stroke="#b4b4b4" stroke-width="0.8"/><circle cx="65.5" cy="402.3" r="2.2" fill="#4e4e4e"/><circle cx="77.0" cy="402.2" r="3.8" fill="#5e5e5e" stroke="#b4b4b4" stroke-width="0.8"/><circle cx="77.3" cy="402.5" r="2.2" fill="#4e4e4e"/><circle cx="85.4" cy="401.8" r="3.8" fill="#5e5e5e" stroke="#b4b4b4" stroke-width="0.8"/><circle cx="85.7" cy="402.1" r="2.2" fill="#4e4e4e"/><circle cx="96.8" cy="402.1" r="3.8" fill="#5e5e5e" stroke="#b4b4b4" stroke-width="0.8"/><circle cx="97.1" cy="402.4" r="2.2" fill="#4e4e4e"/><circle cx="106.4" cy="401.8" r="3.8" fill="#5e5e5e" stroke="#b4b4b4" stroke-width="0.8"/><circle cx="106.7" cy="402.1" r="2.2" fill="#4e4e4e"/><circle cx="117.9" cy="402.0" r="3.8" fill="#5e5e5e" stroke="#b4b4b4" stroke-width="0.8"/><circle cx="118.2" cy="402.3" r="2.2" fill="#4e4e4e"/><circle cx="126.8" cy="401.5" r="3.8" fill="#5e5e5e" stroke="#b4b4b4" stroke-width="0.8"/><circle cx="127.1" cy="401.8" r="2.2" fill="#4e4e4e"/><circle cx="138.6" cy="401.9" r="3.8" fill="#5e5e5e" stroke="#b4b4b4" stroke-width="0.8"/><circle cx="138.9" cy="402.2" r="2.2" fill="#4e4e4e"/><circle cx="147.4" cy="401.7" r="3.8" fill="#5e5e5e" stroke="#b4b4b4" stroke-width="0.8"/><circle cx="147.7" cy="402.0" r="2.2" fill="#4e4e4e"/><circle cx="35.4" cy="412.3" r="3.8" fill="#5e5e5e" stroke="#b4b4b4" stroke-width="0.8"/><circle cx="35.7" cy="412.6" r="2.2" fill="#4e4e4e"/><circle cx="44.3" cy="412.3" r="3.8" fill="#5e5e5e" stroke="#b4b4b4" stroke-width="0.8"/><circle cx="44.6" cy="412.6" r="2.2" fill="#4e4e4e"/><circle cx="55.4" cy="411.8" r="3.8" fill="#5e5e5e" stroke="#b4b4b4" stroke-width="0.8"/><circle cx="55.7" cy="412.1" r="2.2" fill="#4e4e4e"/><circle cx="64.7" cy="412.2" r="3.8" fill="#5e5e5e" stroke="#b4b4b4" stroke-width="0.8"/><circle cx="65.0" cy="412.5" r="2.2" fill="#4e4e4e"/><circle cx="76.2" cy="412.2" r="3.8" fill="#5e5e5e" stroke="#b4b4b4" stroke-width="0.8"/><circle cx="76.5" cy="412.5" r="2.2" fill="#4e4e4e"/><circle cx="85.5" cy="411.7" r="3.8" fill="#5e5e5e" stroke="#b4b4b4" stroke-width="0.8"/><circle cx="85.8" cy="412.0" r="2.2" fill="#4e4e4e"/><circle cx="97.1" cy="411.9" r="3.8" fill="#5e5e5e" stroke="#b4b4b4" stroke-width="0.8"/><circle cx="97.4" cy="412.2" r="2.2" fill="#4e4e4e"/><circle cx="105.6" cy="411.8" r="3.8" fill="#5e5e5e" stroke="#b4b4b4" stroke-width="0.8"/><circle cx="105.9" cy="412.1" r="2.2" fill="#4e4e4e"/><circle cx="117.5" cy="411.8" r="3.8" fill="#5e5e5e" stroke="#b4b4b4" stroke-width="0.8"/><circle cx="117.8" cy="412.1" r="2.2" fill="#4e4e4e"/><circle cx="126.3" cy="411.7" r="3.8" fill="#5e5e5e" stroke="#b4b4b4" stroke-width="0.8"/><circle cx="126.6" cy="412.0" r="2.2" fill="#4e4e4e"/><circle cx="138.3" cy="412.0" r="3.8" fill="#5e5e5e" stroke="#b4b4b4" stroke-width="0.8"/><circle cx="138.6" cy="412.3" r="2.2" fill="#4e4e4e"/><circle cx="147.3" cy="412.2" r="3.8" fill="#5e5e5e" stroke="#b4b4b4" stroke-width="0.8"/><circle cx="147.6" cy="412.5" r="2.2" fill="#4e4e4e"/><circle cx="35.0" cy="422.7" r="3.8" fill="#5e5e5e" stroke="#b4b4b4" stroke-width="0.8"/><circle cx="35.3" cy="423.0" r="2.2" fill="#4e4e4e"/><circle cx="43.7" cy="422.3" r="3.8" fill="#5e5e5e" stroke="#b4b4b4" stroke-width="0.8"/><circle cx="44.0" cy="422.6" r="2.2" fill="#4e4e4e"/><circle cx="55.7" cy="422.3" r="3.8" fill="#5e5e5e" stroke="#b4b4b4" stroke-width="0.8"/><circle cx="56.0" cy="422.6" r="2.2" fill="#4e4e4e"/><circle cx="64.4" cy="422.7" r="3.8" fill="#5e5e5e" stroke="#b4b4b4" stroke-width="0.8"/><circle cx="64.7" cy="423.0" r="2.2" fill="#4e4e4e"/><circle cx="76.4" cy="422.0" r="3.8" fill="#5e5e5e" stroke="#b4b4b4" stroke-width="0.8"/><circle cx="76.7" cy="422.3" r="2.2" fill="#4e4e4e"/><circle cx="85.5" cy="422.1" r="3.8" fill="#5e5e5e" stroke="#b4b4b4" stroke-width="0.8"/><circle cx="85.8" cy="422.4" r="2.2" fill="#4e4e4e"/><circle cx="97.1" cy="422.3" r="3.8" fill="#5e5e5e" stroke="#b4b4b4" stroke-width="0.8"/><circle cx="97.4" cy="422.6" r="2.2" fill="#4e4e4e"/><circle cx="106.1" cy="422.8" r="3.8" fill="#5e5e5e" stroke="#b4b4b4" stroke-width="0.8"/><circle cx="106.4" cy="423.1" r="2.2" fill="#4e4e4e"/><circle cx="118.0" cy="422.3" r="3.8" fill="#5e5e5e" stroke="#b4b4b4" stroke-width="0.8"/><circle cx="118.3" cy="422.6" r="2.2" fill="#4e4e4e"/><circle cx="126.9" cy="422.5" r="3.8" fill="#5e5e5e" stroke="#b4b4b4" stroke-width="0.8"/><circle cx="127.2" cy="422.8" r="2.2" fill="#4e4e4e"/><circle cx="138.2" cy="422.1" r="3.8" fill="#5e5e5e" stroke="#b4b4b4" stroke-width="0.8"/><circle cx="138.5" cy="422.4" r="2.2" fill="#4e4e4e"/><circle cx="147.3" cy="422.5" r="3.8" fill="#5e5e5e" stroke="#b4b4b4" stroke-width="0.8"/><circle cx="147.6" cy="422.8" r="2.2" fill="#4e4e4e"/><circle cx="35.8" cy="433.1" r="3.8" fill="#5e5e5e" stroke="#b4b4b4" stroke-width="0.8"/><circle cx="36.1" cy="433.4" r="2.2" fill="#4e4e4e"/><circle cx="44.3" cy="432.6" r="3.8" fill="#5e5e5e" stroke="#b4b4b4" stroke-width="0.8"/><circle cx="44.6" cy="432.9" r="2.2" fill="#4e4e4e"/><circle cx="56.3" cy="432.3" r="3.8" fill="#5e5e5e" stroke="#b4b4b4" stroke-width="0.8"/><circle cx="56.6" cy="432.6" r="2.2" fill="#4e4e4e"/><circle cx="64.4" cy="432.8" r="3.8" fill="#5e5e5e" stroke="#b4b4b4" stroke-width="0.8"/><circle cx="64.7" cy="433.1" r="2.2" fill="#4e4e4e"/><circle cx="76.6" cy="432.4" r="3.8" fill="#5e5e5e" stroke="#b4b4b4" stroke-width="0.8"/><circle cx="76.9" cy="432.7" r="2.2" fill="#4e4e4e"/><circle cx="85.5" cy="433.0" r="3.8" fill="#5e5e5e" stroke="#b4b4b4" stroke-width="0.8"/><circle cx="85.8" cy="433.3" r="2.2" fill="#4e4e4e"/><circle cx="97.0" cy="432.6" r="3.8" fill="#5e5e5e" stroke="#b4b4b4" stroke-width="0.8"/><circle cx="97.3" cy="432.9" r="2.2" fill="#4e4e4e"/><circle cx="105.7" cy="432.5" r="3.8" fill="#5e5e5e" stroke="#b4b4b4" stroke-width="0.8"/><circle cx="106.0" cy="432.8" r="2.2" fill="#4e4e4e"/><circle cx="118.2" cy="432.6" r="3.8" fill="#5e5e5e" stroke="#b4b4b4" stroke-width="0.8"/><circle cx="118.5" cy="432.9" r="2.2" fill="#4e4e4e"/><circle cx="127.1" cy="433.0" r="3.8" fill="#5e5e5e" stroke="#b4b4b4" stroke-width="0.8"/><circle cx="127.4" cy="433.3" r="2.2" fill="#4e4e4e"/><circle cx="138.4" cy="432.5" r="3.8" fill="#5e5e5e" stroke="#b4b4b4" stroke-width="0.8"/><circle cx="138.7" cy="432.8" r="2.2" fill="#4e4e4e"/><circle cx="147.7" cy="432.7" r="3.8" fill="#5e5e5e" stroke="#b4b4b4" stroke-width="0.8"/><circle cx="148.0" cy="433.0" r="2.2" fill="#4e4e4e"/></g><rect x="95.5" y="416.3" width="27.2" height="2.2" fill="#e8e020"/><text x="99" y="413" font-size="7" fill="#e8e020">5 μm</text><rect x="132.6" y="324.4" width="103.0" height="45" fill="#050505"/><rect x="132.6" y="369" width="103.0" height="59" fill="#5c5c5c"/><rect x="132.6" y="379.5" width="103.0" height="7" fill="#8c8c8c"/><defs><linearGradient id="pil" x1="0" y1="0" x2="1" y2="0"><stop offset="0" stop-color="#9a9a9a"/><stop offset="0.5" stop-color="#dedede"/><stop offset="1" stop-color="#a0a0a0"/></linearGradient></defs><rect x="132.6" y="368.5" width="11.4" height="11.5" fill="url(#pil)"/><rect x="144.5" y="371.5" width="5.5" height="8.5" fill="url(#pil)"/><rect x="150.5" y="370.5" width="6.5" height="9.5" fill="url(#pil)"/><rect x="157.5" y="367.8" width="26.0" height="12.2" fill="url(#pil)"/><rect x="184" y="372" width="4.5" height="8.0" fill="url(#pil)"/><rect x="188.8" y="368" width="20.7" height="12.0" fill="url(#pil)"/><rect x="210" y="372" width="6.0" height="8.0" fill="url(#pil)"/><rect x="216.5" y="371" width="4.5" height="9.0" fill="url(#pil)"/><rect x="221.5" y="368.5" width="14.1" height="11.5" fill="url(#pil)"/><rect x="132.6" y="386" width="103.0" height="0.9" fill="#d6dc88"/><g font-style="italic" fill="#fff" font-size="7.5"><text x="136" y="338.5">Air</text><text x="137" y="411">Si</text></g><text x="162" y="376.5" font-size="6" fill="#f4f4f4">Ge</text><text x="158" y="384.8" font-size="5.5" fill="#eee">Al<tspan font-size="4" dy="1.5">2</tspan><tspan dy="-1.5">O</tspan><tspan font-size="4" dy="1.5">3</tspan></text><text x="136.5" y="389.5" font-size="6" fill="#d8d830" font-style="italic">Au</text><rect x="201.8" y="416" width="33.2" height="2.4" fill="#f0e820"/><text x="211" y="412.5" font-size="8" fill="#f0e820">2 μm</text><rect x="256.2" y="323.2" width="104.3" height="104.8" fill="#1010a2"/><defs><clipPath id="hmclip"><rect x="256.2" y="323.2" width="104.3" height="104.8"/></clipPath></defs><g clip-path="url(#hmclip)"><g filter="url(#blur3)"><ellipse cx="308" cy="375" rx="36" ry="30" fill="#1a38d8" opacity="0.55"/><ellipse cx="302" cy="375" rx="6" ry="22" fill="#30a0f0" opacity="0.6"/><ellipse cx="316" cy="375" rx="6" ry="22" fill="#30a0f0" opacity="0.6"/><ellipse cx="289" cy="375" rx="5" ry="16" fill="#2a70e8" opacity="0.45"/><ellipse cx="329" cy="375" rx="5" ry="16" fill="#2a70e8" opacity="0.45"/></g><circle cx="272.8" cy="346.3" r="0.8" fill="#e8f4ff" opacity="0.35"/><circle cx="279.3" cy="346.3" r="0.8" fill="#e8f4ff" opacity="0.35"/><circle cx="285.8" cy="346.3" r="0.8" fill="#e8f4ff" opacity="0.35"/><circle cx="292.2" cy="346.3" r="0.9" fill="#e8f4ff" opacity="0.41"/><circle cx="298.7" cy="346.3" r="1.0" fill="#e8f4ff" opacity="0.48"/><circle cx="305.2" cy="346.3" r="1.0" fill="#e8f4ff" opacity="0.51"/><circle cx="311.7" cy="346.3" r="1.0" fill="#e8f4ff" opacity="0.51"/><circle cx="318.2" cy="346.3" r="1.0" fill="#e8f4ff" opacity="0.48"/><circle cx="324.6" cy="346.3" r="0.9" fill="#e8f4ff" opacity="0.41"/><circle cx="331.1" cy="346.3" r="0.8" fill="#e8f4ff" opacity="0.35"/><circle cx="337.6" cy="346.3" r="0.8" fill="#e8f4ff" opacity="0.35"/><circle cx="344.1" cy="346.3" r="0.8" fill="#e8f4ff" opacity="0.35"/><circle cx="272.8" cy="352.7" r="0.8" fill="#e8f4ff" opacity="0.35"/><circle cx="279.3" cy="352.7" r="0.8" fill="#e8f4ff" opacity="0.38"/><circle cx="285.8" cy="352.7" r="1.0" fill="#e8f4ff" opacity="0.51"/><circle cx="292.2" cy="352.7" r="1.2" fill="#e8f4ff" opacity="0.60"/><circle cx="298.7" cy="352.7" r="1.2" fill="#e8f4ff" opacity="0.67"/><circle cx="305.2" cy="352.7" r="1.3" fill="#e8f4ff" opacity="0.70"/><circle cx="311.7" cy="352.7" r="1.3" fill="#e8f4ff" opacity="0.70"/><circle cx="318.2" cy="352.7" r="1.2" fill="#e8f4ff" opacity="0.67"/><circle cx="324.6" cy="352.7" r="1.2" fill="#e8f4ff" opacity="0.60"/><circle cx="331.1" cy="352.7" r="1.0" fill="#e8f4ff" opacity="0.51"/><circle cx="337.6" cy="352.7" r="0.8" fill="#e8f4ff" opacity="0.38"/><circle cx="344.1" cy="352.7" r="0.8" fill="#e8f4ff" opacity="0.35"/><circle cx="272.8" cy="359.0" r="0.8" fill="#e8f4ff" opacity="0.36"/><circle cx="279.3" cy="359.0" r="1.0" fill="#e8f4ff" opacity="0.52"/><circle cx="285.8" cy="359.0" r="1.2" fill="#e8f4ff" opacity="0.65"/><circle cx="292.2" cy="359.0" r="1.4" fill="#e8f4ff" opacity="0.75"/><circle cx="298.7" cy="359.0" r="1.4" fill="#e8f4ff" opacity="0.81"/><circle cx="305.2" cy="359.0" r="1.5" fill="#e8f4ff" opacity="0.85"/><circle cx="311.7" cy="359.0" r="1.5" fill="#e8f4ff" opacity="0.85"/><circle cx="318.2" cy="359.0" r="1.4" fill="#e8f4ff" opacity="0.81"/><circle cx="324.6" cy="359.0" r="1.4" fill="#e8f4ff" opacity="0.75"/><circle cx="331.1" cy="359.0" r="1.2" fill="#e8f4ff" opacity="0.65"/><circle cx="337.6" cy="359.0" r="1.0" fill="#e8f4ff" opacity="0.52"/><circle cx="344.1" cy="359.0" r="0.8" fill="#e8f4ff" opacity="0.36"/><circle cx="272.8" cy="365.4" r="1.0" fill="#e8f4ff" opacity="0.46"/><circle cx="279.3" cy="365.4" r="1.2" fill="#e8f4ff" opacity="0.62"/><circle cx="285.8" cy="365.4" r="1.4" fill="#e8f4ff" opacity="0.75"/><circle cx="292.2" cy="365.4" r="1.5" fill="#e8f4ff" opacity="0.85"/><circle cx="298.7" cy="365.4" r="1.6" fill="#e8f4ff" opacity="0.91"/><circle cx="305.2" cy="365.4" r="1.6" fill="#e8f4ff" opacity="0.94"/><circle cx="311.7" cy="365.4" r="1.6" fill="#e8f4ff" opacity="0.94"/><circle cx="318.2" cy="365.4" r="1.6" fill="#e8f4ff" opacity="0.91"/><circle cx="324.6" cy="365.4" r="1.5" fill="#e8f4ff" opacity="0.85"/><circle cx="331.1" cy="365.4" r="1.4" fill="#e8f4ff" opacity="0.75"/><circle cx="337.6" cy="365.4" r="1.2" fill="#e8f4ff" opacity="0.62"/><circle cx="344.1" cy="365.4" r="1.0" fill="#e8f4ff" opacity="0.46"/><circle cx="272.8" cy="371.8" r="1.0" fill="#e8f4ff" opacity="0.51"/><circle cx="279.3" cy="371.8" r="1.2" fill="#e8f4ff" opacity="0.67"/><circle cx="285.8" cy="371.8" r="1.4" fill="#e8f4ff" opacity="0.80"/><circle cx="292.2" cy="371.8" r="1.6" fill="#e8f4ff" opacity="0.89"/><circle cx="298.7" cy="371.8" r="1.6" fill="#e8f4ff" opacity="0.96"/><circle cx="305.2" cy="371.8" r="1.7" fill="#e8f4ff" opacity="0.99"/><circle cx="311.7" cy="371.8" r="1.7" fill="#e8f4ff" opacity="0.99"/><circle cx="318.2" cy="371.8" r="1.6" fill="#e8f4ff" opacity="0.96"/><circle cx="324.6" cy="371.8" r="1.6" fill="#e8f4ff" opacity="0.89"/><circle cx="331.1" cy="371.8" r="1.4" fill="#e8f4ff" opacity="0.80"/><circle cx="337.6" cy="371.8" r="1.2" fill="#e8f4ff" opacity="0.67"/><circle cx="344.1" cy="371.8" r="1.0" fill="#e8f4ff" opacity="0.51"/><circle cx="272.8" cy="378.2" r="1.0" fill="#e8f4ff" opacity="0.51"/><circle cx="279.3" cy="378.2" r="1.2" fill="#e8f4ff" opacity="0.67"/><circle cx="285.8" cy="378.2" r="1.4" fill="#e8f4ff" opacity="0.80"/><circle cx="292.2" cy="378.2" r="1.6" fill="#e8f4ff" opacity="0.89"/><circle cx="298.7" cy="378.2" r="1.6" fill="#e8f4ff" opacity="0.96"/><circle cx="305.2" cy="378.2" r="1.7" fill="#e8f4ff" opacity="0.99"/><circle cx="311.7" cy="378.2" r="1.7" fill="#e8f4ff" opacity="0.99"/><circle cx="318.2" cy="378.2" r="1.6" fill="#e8f4ff" opacity="0.96"/><circle cx="324.6" cy="378.2" r="1.6" fill="#e8f4ff" opacity="0.89"/><circle cx="331.1" cy="378.2" r="1.4" fill="#e8f4ff" opacity="0.80"/><circle cx="337.6" cy="378.2" r="1.2" fill="#e8f4ff" opacity="0.67"/><circle cx="344.1" cy="378.2" r="1.0" fill="#e8f4ff" opacity="0.51"/><circle cx="272.8" cy="384.5" r="1.0" fill="#e8f4ff" opacity="0.46"/><circle cx="279.3" cy="384.5" r="1.2" fill="#e8f4ff" opacity="0.62"/><circle cx="285.8" cy="384.5" r="1.4" fill="#e8f4ff" opacity="0.75"/><circle cx="292.2" cy="384.5" r="1.5" fill="#e8f4ff" opacity="0.85"/><circle cx="298.7" cy="384.5" r="1.6" fill="#e8f4ff" opacity="0.91"/><circle cx="305.2" cy="384.5" r="1.6" fill="#e8f4ff" opacity="0.94"/><circle cx="311.7" cy="384.5" r="1.6" fill="#e8f4ff" opacity="0.94"/><circle cx="318.2" cy="384.5" r="1.6" fill="#e8f4ff" opacity="0.91"/><circle cx="324.6" cy="384.5" r="1.5" fill="#e8f4ff" opacity="0.85"/><circle cx="331.1" cy="384.5" r="1.4" fill="#e8f4ff" opacity="0.75"/><circle cx="337.6" cy="384.5" r="1.2" fill="#e8f4ff" opacity="0.62"/><circle cx="344.1" cy="384.5" r="1.0" fill="#e8f4ff" opacity="0.46"/><circle cx="272.8" cy="390.9" r="0.8" fill="#e8f4ff" opacity="0.36"/><circle cx="279.3" cy="390.9" r="1.0" fill="#e8f4ff" opacity="0.52"/><circle cx="285.8" cy="390.9" r="1.2" fill="#e8f4ff" opacity="0.65"/><circle cx="292.2" cy="390.9" r="1.4" fill="#e8f4ff" opacity="0.75"/><circle cx="298.7" cy="390.9" r="1.4" fill="#e8f4ff" opacity="0.81"/><circle cx="305.2" cy="390.9" r="1.5" fill="#e8f4ff" opacity="0.85"/><circle cx="311.7" cy="390.9" r="1.5" fill="#e8f4ff" opacity="0.85"/><circle cx="318.2" cy="390.9" r="1.4" fill="#e8f4ff" opacity="0.81"/><circle cx="324.6" cy="390.9" r="1.4" fill="#e8f4ff" opacity="0.75"/><circle cx="331.1" cy="390.9" r="1.2" fill="#e8f4ff" opacity="0.65"/><circle cx="337.6" cy="390.9" r="1.0" fill="#e8f4ff" opacity="0.52"/><circle cx="344.1" cy="390.9" r="0.8" fill="#e8f4ff" opacity="0.36"/><circle cx="272.8" cy="397.3" r="0.8" fill="#e8f4ff" opacity="0.35"/><circle cx="279.3" cy="397.3" r="0.8" fill="#e8f4ff" opacity="0.38"/><circle cx="285.8" cy="397.3" r="1.0" fill="#e8f4ff" opacity="0.51"/><circle cx="292.2" cy="397.3" r="1.2" fill="#e8f4ff" opacity="0.60"/><circle cx="298.7" cy="397.3" r="1.2" fill="#e8f4ff" opacity="0.67"/><circle cx="305.2" cy="397.3" r="1.3" fill="#e8f4ff" opacity="0.70"/><circle cx="311.7" cy="397.3" r="1.3" fill="#e8f4ff" opacity="0.70"/><circle cx="318.2" cy="397.3" r="1.2" fill="#e8f4ff" opacity="0.67"/><circle cx="324.6" cy="397.3" r="1.2" fill="#e8f4ff" opacity="0.60"/><circle cx="331.1" cy="397.3" r="1.0" fill="#e8f4ff" opacity="0.51"/><circle cx="337.6" cy="397.3" r="0.8" fill="#e8f4ff" opacity="0.38"/><circle cx="344.1" cy="397.3" r="0.8" fill="#e8f4ff" opacity="0.35"/><circle cx="272.8" cy="403.6" r="0.8" fill="#e8f4ff" opacity="0.35"/><circle cx="279.3" cy="403.6" r="0.8" fill="#e8f4ff" opacity="0.35"/><circle cx="285.8" cy="403.6" r="0.8" fill="#e8f4ff" opacity="0.35"/><circle cx="292.2" cy="403.6" r="0.9" fill="#e8f4ff" opacity="0.41"/><circle cx="298.7" cy="403.6" r="1.0" fill="#e8f4ff" opacity="0.48"/><circle cx="305.2" cy="403.6" r="1.0" fill="#e8f4ff" opacity="0.51"/><circle cx="311.7" cy="403.6" r="1.0" fill="#e8f4ff" opacity="0.51"/><circle cx="318.2" cy="403.6" r="1.0" fill="#e8f4ff" opacity="0.48"/><circle cx="324.6" cy="403.6" r="0.9" fill="#e8f4ff" opacity="0.41"/><circle cx="331.1" cy="403.6" r="0.8" fill="#e8f4ff" opacity="0.35"/><circle cx="337.6" cy="403.6" r="0.8" fill="#e8f4ff" opacity="0.35"/><circle cx="344.1" cy="403.6" r="0.8" fill="#e8f4ff" opacity="0.35"/></g><text x="312" y="330.8" font-size="7.5" fill="#fff" text-anchor="middle">6×12 array</text><g fill="none" stroke="#ddd" stroke-width="0.8"><path d="M269,338 Q265,338 265,344 L265,370 Q265,376 262,376 Q265,376 265,382 L265,408 Q265,413.5 269,413.5"/><path d="M269,413 Q269,417 275,417 L301,417 Q307,417 307,420 Q307,417 313,417 L341,417 Q347,417 347,413"/></g><text transform="translate(261.5,376) rotate(-90)" font-size="7" fill="#ddd" text-anchor="middle">12×a</text><text x="305" y="426.5" font-size="7" fill="#ddd" text-anchor="middle">12×a</text><defs><linearGradient id="jet" x1="0" y1="1" x2="0" y2="0"><stop offset="0" stop-color="#00008f"/><stop offset="0.125" stop-color="#0000ff"/><stop offset="0.375" stop-color="#00ffff"/><stop offset="0.625" stop-color="#ffff00"/><stop offset="0.875" stop-color="#ff0000"/><stop offset="1" stop-color="#800000"/></linearGradient></defs><rect x="362.8" y="346" width="4.2" height="59.5" fill="url(#jet)" stroke="#333" stroke-width="0.4"/><g font-size="6.5" fill="#333"><text x="366" y="343">Max.</text><text x="369" y="377.5">|H|</text><text x="365.5" y="410.5">Min.</text></g><rect x="33.5" y="444.4" width="207.8" height="91.3" fill="none" stroke="#777" stroke-width="0.7"/><g stroke="#777" stroke-width="0.6"><line x1="75.1" y1="444.4" x2="75.1" y2="535.7"/><line x1="116.6" y1="444.4" x2="116.6" y2="535.7"/><line x1="158.2" y1="444.4" x2="158.2" y2="535.7"/><line x1="199.7" y1="444.4" x2="199.7" y2="535.7"/></g><g font-size="6.8" fill="#444" text-anchor="end"><text x="31" y="538.1">0.0</text><text x="31" y="521.8">0.1</text><text x="31" y="505.5">0.2</text><text x="31" y="489.2">0.3</text><text x="31" y="472.9">0.4</text><text x="31" y="456.6">0.5</text></g><text transform="translate(18.8,487) rotate(-90)" font-size="6.8" fill="#444" text-anchor="middle">Emissivity</text><g font-size="6.6" fill="#444" text-anchor="middle"><text x="40.7" y="545.5">5.0</text><text x="54.5" y="545.5">5.1</text><text x="68.3" y="545.5">5.2</text><text x="82.3" y="545.5">5.0</text><text x="96.1" y="545.5">5.1</text><text x="109.9" y="545.5">5.2</text><text x="123.8" y="545.5">5.0</text><text x="137.6" y="545.5">5.1</text><text x="151.4" y="545.5">5.2</text><text x="165.4" y="545.5">5.0</text><text x="179.2" y="545.5">5.1</text><text x="193.0" y="545.5">5.2</text><text x="206.9" y="545.5">5.0</text><text x="220.7" y="545.5">5.1</text><text x="234.5" y="545.5">5.2</text></g><text x="138" y="554.5" font-size="6.8" fill="#444" text-anchor="middle">Wavelength (μm)</text><polyline points="33.5,529.4 34.2,529.3 34.9,529.2 35.6,529.2 36.3,529.1 37.0,529.0 37.7,528.9 38.4,528.8 39.1,528.7 39.8,528.5 40.4,528.4 41.1,528.2 41.8,528.0 42.5,527.7 43.2,527.5 43.9,527.1 44.6,526.8 45.3,526.3 46.0,525.8 46.7,525.1 47.4,524.3 48.1,523.3 48.8,522.0 49.4,520.4 50.1,518.3 50.8,515.5 51.5,511.8 52.2,506.7 52.9,499.9 53.6,490.7 54.3,479.4 55.0,468.0 55.7,461.1 56.4,463.1 57.1,472.5 57.8,484.3 58.4,494.8 59.1,503.0 59.8,509.0 60.5,513.5 61.2,516.8 61.9,519.2 62.6,521.1 63.3,522.6 64.0,523.7 64.7,524.6 65.4,525.4 66.1,526.0 66.8,526.5 67.4,526.9 68.1,527.3 68.8,527.6 69.5,527.8 70.2,528.1 70.9,528.3 71.6,528.4 72.3,528.6 73.0,528.7 73.7,528.8 74.4,528.9 75.1,529.0" fill="none" stroke="#333333" stroke-width="0.9"/><line x1="35.5" y1="448.7" x2="41.5" y2="448.7" stroke="#333333" stroke-width="0.9"/><text x="42.5" y="451" font-size="6.5" fill="#444">175 °C</text><polyline points="75.1,531.3 75.8,531.2 76.5,531.2 77.2,531.1 77.9,531.1 78.5,531.0 79.2,530.9 79.9,530.8 80.6,530.7 81.3,530.6 82.0,530.5 82.7,530.4 83.4,530.2 84.1,530.1 84.8,529.9 85.5,529.7 86.2,529.4 86.9,529.1 87.5,528.8 88.2,528.4 88.9,528.0 89.6,527.4 90.3,526.7 91.0,525.9 91.7,524.9 92.4,523.6 93.1,522.0 93.8,519.9 94.5,517.1 95.2,513.4 95.9,508.3 96.5,501.4 97.2,492.2 97.9,480.6 98.6,468.2 99.3,459.6 100.0,459.8 100.7,468.6 101.4,481.0 102.1,492.6 102.8,501.7 103.5,508.5 104.2,513.5 104.9,517.2 105.5,520.0 106.2,522.0 106.9,523.7 107.6,524.9 108.3,525.9 109.0,526.8 109.7,527.4 110.4,528.0 111.1,528.4 111.8,528.8 112.5,529.2 113.2,529.4 113.9,529.7 114.5,529.9 115.2,530.1 115.9,530.3 116.6,530.4" fill="none" stroke="#e06868" stroke-width="0.9"/><line x1="77.1" y1="448.7" x2="83.1" y2="448.7" stroke="#e06868" stroke-width="0.9"/><text x="84.1" y="451" font-size="6.5" fill="#444">200 °C</text><polyline points="116.6,531.7 117.3,531.7 118.0,531.7 118.7,531.6 119.4,531.6 120.1,531.5 120.8,531.5 121.5,531.4 122.2,531.3 122.9,531.3 123.6,531.2 124.3,531.1 125.0,531.0 125.6,530.9 126.3,530.8 127.0,530.6 127.7,530.5 128.4,530.3 129.1,530.1 129.8,529.9 130.5,529.6 131.2,529.3 131.9,528.9 132.6,528.5 133.3,528.0 134.0,527.4 134.6,526.7 135.3,525.8 136.0,524.7 136.7,523.3 137.4,521.5 138.1,519.2 138.8,516.2 139.5,512.1 140.2,506.5 140.9,498.9 141.6,488.8 142.3,476.4 143.0,464.0 143.6,456.7 144.3,459.1 145.0,469.5 145.7,482.4 146.4,493.8 147.1,502.7 147.8,509.3 148.5,514.1 149.2,517.7 149.9,520.4 150.6,522.4 151.3,524.0 152.0,525.3 152.6,526.3 153.3,527.1 154.0,527.7 154.7,528.3 155.4,528.7 156.1,529.1 156.8,529.5 157.5,529.7 158.2,530.0" fill="none" stroke="#4848c0" stroke-width="0.9"/><line x1="118.6" y1="448.7" x2="124.6" y2="448.7" stroke="#4848c0" stroke-width="0.9"/><text x="125.6" y="451" font-size="6.5" fill="#444">225 °C</text><polyline points="158.2,533.1 158.9,533.1 159.6,533.1 160.3,533.0 161.0,533.0 161.7,533.0 162.4,532.9 163.1,532.9 163.7,532.8 164.4,532.8 165.1,532.7 165.8,532.7 166.5,532.6 167.2,532.5 167.9,532.4 168.6,532.3 169.3,532.2 170.0,532.1 170.7,532.0 171.4,531.9 172.1,531.7 172.7,531.5 173.4,531.3 174.1,531.1 174.8,530.8 175.5,530.5 176.2,530.1 176.9,529.6 177.6,529.1 178.3,528.5 179.0,527.7 179.7,526.8 180.4,525.7 181.0,524.2 181.7,522.3 182.4,519.9 183.1,516.7 183.8,512.4 184.5,506.6 185.2,498.6 185.9,488.0 186.6,475.0 187.3,462.1 188.0,454.6 188.7,457.2 189.4,468.1 190.0,481.6 190.7,493.5 191.4,502.8 192.1,509.6 192.8,514.7 193.5,518.4 194.2,521.2 194.9,523.3 195.6,525.0 196.3,526.3 197.0,527.3 197.7,528.1 198.4,528.8 199.0,529.4 199.7,529.9" fill="none" stroke="#e8c068" stroke-width="0.9"/><line x1="160.2" y1="448.7" x2="166.2" y2="448.7" stroke="#e8c068" stroke-width="0.9"/><text x="167.2" y="451" font-size="6.5" fill="#444">250 °C</text><polyline points="199.8,533.6 200.5,533.5 201.1,533.5 201.8,533.5 202.5,533.5 203.2,533.4 203.9,533.4 204.6,533.4 205.3,533.3 206.0,533.3 206.7,533.3 207.4,533.2 208.1,533.2 208.8,533.1 209.5,533.1 210.1,533.0 210.8,532.9 211.5,532.9 212.2,532.8 212.9,532.7 213.6,532.6 214.3,532.5 215.0,532.4 215.7,532.2 216.4,532.1 217.1,531.9 217.8,531.7 218.5,531.5 219.1,531.2 219.8,530.9 220.5,530.6 221.2,530.1 221.9,529.7 222.6,529.1 223.3,528.4 224.0,527.5 224.7,526.5 225.4,525.2 226.1,523.6 226.8,521.4 227.5,518.7 228.1,514.9 228.8,509.9 229.5,503.1 230.2,493.9 230.9,481.9 231.6,468.1 232.3,456.4 233.0,452.7 233.7,459.6 234.4,472.6 235.1,486.0 235.8,497.1 236.5,505.5 237.1,511.7 237.8,516.2 238.5,519.6 239.2,522.2 239.9,524.1 240.6,525.7 241.3,526.9" fill="none" stroke="#48a888" stroke-width="0.9"/><line x1="201.7" y1="448.7" x2="207.7" y2="448.7" stroke="#48a888" stroke-width="0.9"/><text x="208.7" y="451" font-size="6.5" fill="#444">275 °C</text><rect x="269.0" y="446.5" width="98.0" height="94.0" fill="none" stroke="#777" stroke-width="0.7"/><g font-size="6.8" fill="#444" text-anchor="end"><text x="266.5" y="542.9">0.0</text><text x="266.5" y="524.1">0.2</text><text x="266.5" y="505.3">0.4</text><text x="266.5" y="486.5">0.6</text><text x="266.5" y="467.7">0.8</text><text x="266.5" y="448.9">1.0</text></g><g font-size="6.8" fill="#444" text-anchor="middle"><text x="269.0" y="549">5.05</text><text x="301.7" y="549">5.10</text><text x="334.3" y="549">5.15</text><text x="367.0" y="549">5.20</text></g><text x="320" y="556" font-size="6.8" fill="#444" text-anchor="middle">Wavelength (μm)</text><text transform="translate(253,495) rotate(-90)" font-size="6.8" fill="#444" text-anchor="middle">Emissivity</text><polyline points="269.0,537.9 269.7,537.9 270.3,537.8 271.0,537.8 271.6,537.8 272.3,537.8 272.9,537.8 273.6,537.8 274.2,537.8 274.9,537.8 275.5,537.8 276.2,537.8 276.8,537.7 277.5,537.7 278.1,537.7 278.8,537.7 279.5,537.7 280.1,537.7 280.8,537.7 281.4,537.6 282.1,537.6 282.7,537.6 283.4,537.6 284.0,537.6 284.7,537.6 285.3,537.5 286.0,537.5 286.6,537.5 287.3,537.5 287.9,537.4 288.6,537.4 289.3,537.4 289.9,537.3 290.6,537.3 291.2,537.3 291.9,537.2 292.5,537.2 293.2,537.1 293.8,537.1 294.5,537.0 295.1,537.0 295.8,536.9 296.4,536.8 297.1,536.8 297.7,536.7 298.4,536.6 299.1,536.5 299.7,536.4 300.4,536.3 301.0,536.1 301.7,536.0 302.3,535.8 303.0,535.7 303.6,535.5 304.3,535.3 304.9,535.0 305.6,534.7 306.2,534.4 306.9,534.1 307.5,533.7 308.2,533.2 308.9,532.6 309.5,532.0 310.2,531.2 310.8,530.3 311.5,529.2 312.1,527.9 312.8,526.3 313.4,524.3 314.1,521.8 314.7,518.6 315.4,514.6 316.0,509.4 316.7,502.8 317.3,494.4 318.0,484.3 318.7,473.3 319.3,463.5 320.0,458.1 320.6,459.5 321.3,467.1 321.9,477.7 322.6,488.5 323.2,498.0 323.9,505.6 324.5,511.6 325.2,516.3 325.8,520.0 326.5,522.9 327.1,525.2 327.8,527.0 328.5,528.5 329.1,529.7 329.8,530.7 330.4,531.5 331.1,532.3 331.7,532.9 332.4,533.4 333.0,533.8 333.7,534.2 334.3,534.5 335.0,534.8 335.6,535.1 336.3,535.3 336.9,535.5 337.6,535.7 338.3,535.9 338.9,536.1 339.6,536.2 340.2,536.3 340.9,536.4 341.5,536.5 342.2,536.6 342.8,536.7 343.5,536.8 344.1,536.9 344.8,536.9 345.4,537.0 346.1,537.0 346.7,537.1 347.4,537.1 348.1,537.2 348.7,537.2 349.4,537.3 350.0,537.3 350.7,537.3 351.3,537.4 352.0,537.4 352.6,537.4 353.3,537.5 353.9,537.5 354.6,537.5 355.2,537.5 355.9,537.6 356.5,537.6 357.2,537.6 357.9,537.6 358.5,537.6 359.2,537.7 359.8,537.7 360.5,537.7 361.1,537.7 361.8,537.7 362.4,537.7 363.1,537.7 363.7,537.8 364.4,537.8 365.0,537.8 365.7,537.8 366.3,537.8 367.0,537.8" fill="none" stroke="#2030a8" stroke-width="1.3"/><g fill="#5a68c8" stroke="#1a2480" stroke-width="0.6"><circle cx="269.0" cy="537.9" r="1.15"/><circle cx="270.3" cy="537.8" r="1.15"/><circle cx="271.6" cy="537.8" r="1.15"/><circle cx="272.9" cy="537.8" r="1.15"/><circle cx="274.2" cy="537.8" r="1.15"/><circle cx="275.5" cy="537.8" r="1.15"/><circle cx="276.8" cy="537.7" r="1.15"/><circle cx="278.1" cy="537.7" r="1.15"/><circle cx="279.5" cy="537.7" r="1.15"/><circle cx="280.8" cy="537.7" r="1.15"/><circle cx="282.1" cy="537.6" r="1.15"/><circle cx="283.4" cy="537.6" r="1.15"/><circle cx="284.7" cy="537.6" r="1.15"/><circle cx="286.0" cy="537.5" r="1.15"/><circle cx="287.3" cy="537.5" r="1.15"/><circle cx="288.6" cy="537.4" r="1.15"/><circle cx="289.9" cy="537.3" r="1.15"/><circle cx="291.2" cy="537.3" r="1.15"/><circle cx="292.5" cy="537.2" r="1.15"/><circle cx="293.8" cy="537.1" r="1.15"/><circle cx="295.1" cy="537.0" r="1.15"/><circle cx="296.4" cy="536.8" r="1.15"/><circle cx="297.7" cy="536.7" r="1.15"/><circle cx="299.1" cy="536.5" r="1.15"/><circle cx="300.4" cy="536.3" r="1.15"/><circle cx="301.7" cy="536.0" r="1.15"/><circle cx="303.0" cy="535.7" r="1.15"/><circle cx="304.3" cy="535.3" r="1.15"/><circle cx="305.6" cy="534.7" r="1.15"/><circle cx="306.9" cy="534.1" r="1.15"/><circle cx="308.2" cy="533.2" r="1.15"/><circle cx="309.5" cy="532.0" r="1.15"/><circle cx="310.8" cy="530.3" r="1.15"/><circle cx="312.1" cy="527.9" r="1.15"/><circle cx="313.4" cy="524.3" r="1.15"/><circle cx="314.7" cy="518.6" r="1.15"/><circle cx="316.0" cy="509.4" r="1.15"/><circle cx="317.3" cy="494.4" r="1.15"/><circle cx="318.7" cy="473.3" r="1.15"/><circle cx="320.0" cy="458.1" r="1.15"/><circle cx="321.3" cy="467.1" r="1.15"/><circle cx="322.6" cy="488.5" r="1.15"/><circle cx="323.9" cy="505.6" r="1.15"/><circle cx="325.2" cy="516.3" r="1.15"/><circle cx="326.5" cy="522.9" r="1.15"/><circle cx="327.8" cy="527.0" r="1.15"/><circle cx="329.1" cy="529.7" r="1.15"/><circle cx="330.4" cy="531.5" r="1.15"/><circle cx="331.7" cy="532.9" r="1.15"/><circle cx="333.0" cy="533.8" r="1.15"/><circle cx="334.3" cy="534.5" r="1.15"/><circle cx="335.6" cy="535.1" r="1.15"/><circle cx="336.9" cy="535.5" r="1.15"/><circle cx="338.3" cy="535.9" r="1.15"/><circle cx="339.6" cy="536.2" r="1.15"/><circle cx="340.9" cy="536.4" r="1.15"/><circle cx="342.2" cy="536.6" r="1.15"/><circle cx="343.5" cy="536.8" r="1.15"/><circle cx="344.8" cy="536.9" r="1.15"/><circle cx="346.1" cy="537.0" r="1.15"/><circle cx="347.4" cy="537.1" r="1.15"/><circle cx="348.7" cy="537.2" r="1.15"/><circle cx="350.0" cy="537.3" r="1.15"/><circle cx="351.3" cy="537.4" r="1.15"/><circle cx="352.6" cy="537.4" r="1.15"/><circle cx="353.9" cy="537.5" r="1.15"/><circle cx="355.2" cy="537.5" r="1.15"/><circle cx="356.5" cy="537.6" r="1.15"/><circle cx="357.9" cy="537.6" r="1.15"/><circle cx="359.2" cy="537.7" r="1.15"/><circle cx="360.5" cy="537.7" r="1.15"/><circle cx="361.8" cy="537.7" r="1.15"/><circle cx="363.1" cy="537.7" r="1.15"/><circle cx="364.4" cy="537.8" r="1.15"/><circle cx="365.7" cy="537.8" r="1.15"/><circle cx="367.0" cy="537.8" r="1.15"/></g><g stroke="#222" stroke-width="0.6"><line x1="312.5" y1="495.2" x2="317.5" y2="495.2"/><line x1="322.5" y1="495.2" x2="327.5" y2="495.2"/></g><g fill="#222"><path d="M318.5,495.2 L315.5,493.8 L315.5,496.6 Z"/><path d="M321.5,495.2 L324.5,493.8 L324.5,496.6 Z"/></g><text x="329.5" y="493.5" font-size="7" fill="#444">7.7nm</text></g><g id="pc"><path d="M717.8,41 L740.3,48.5 L740.3,81 L717.8,74.5 Z" fill="#bcc8ce"/><path d="M740.3,48.5 L765,39.5 L765,73.5 L740.3,81 Z" fill="#dfe6e9"/><path d="M717.8,41 L737.5,32.5 L765,39.5 L740.3,48.5 Z" fill="#dde4e7"/><circle cx="726.3" cy="75.8" r="1.1" fill="#333"/><text x="751.6" y="63.8" font-size="8.5" fill="#3a3a3a">CPL detector</text><defs><linearGradient id="bulbg" x1="0" y1="0" x2="1" y2="0"><stop offset="0" stop-color="#e8e8e8"/><stop offset="0.25" stop-color="#f4f4f4"/><stop offset="0.8" stop-color="#efefef"/><stop offset="1" stop-color="#e6e6e6"/></linearGradient><linearGradient id="baseg" x1="0" y1="0" x2="1" y2="0"><stop offset="0" stop-color="#707070"/><stop offset="0.2" stop-color="#e8e8e8"/><stop offset="0.85" stop-color="#ffffff"/><stop offset="1" stop-color="#d0d0d0"/></linearGradient></defs><path d="M709.3,128 Q709.3,116.5 722,116.5 L760,116.5 Q772.8,116.5 772.8,128 L772.8,207 Q741,216 709.3,207 Z" fill="url(#bulbg)"/><path d="M716,208 Q741,214 766,208 L766,226 Q741,232 716,226 Z" fill="url(#baseg)"/><ellipse cx="741" cy="208" rx="25" ry="4" fill="#f6f6f6" stroke="#d0d0d0" stroke-width="0.5"/><path d="M733.9,200 L733.9,135 L750.3,139 L750.3,205" fill="none" stroke="#e4b498" stroke-width="0.75"/><text x="712" y="163.3" font-size="7.7" fill="#333">twisted filaments</text><text x="716.4" y="241.3" font-size="7.5" fill="#333">Voltage supply</text><g stroke="#222" stroke-width="0.8"><line x1="733.9" y1="257" x2="733.9" y2="248.5"/><line x1="751.6" y1="247.6" x2="751.6" y2="254.5"/></g><g fill="#222"><path d="M733.9,246 L732.3,250 L735.5,250 Z"/><path d="M751.6,257 L750,253 L753.2,253 Z"/></g><polyline points="734.0,88.0 735.3,88.4 736.5,88.9 737.6,89.5 738.7,90.3 739.7,91.1 740.5,92.1 741.1,93.1 741.6,94.2 741.9,95.3 742.0,96.5 741.9,97.6" fill="none" stroke="#e8a0a8" stroke-width="1.15" stroke-linecap="round"/><polyline points="741.9,97.6 741.6,98.8 741.1,99.9 740.5,100.9 739.7,101.8 738.7,102.7 737.6,103.4 736.5,104.1 735.3,104.6 734.0,105.0 732.7,105.2 731.5,105.3 730.4,105.3 729.3,105.2 728.3,105.0 727.5,104.7 726.9,104.3 726.4,103.8 726.1,103.3 726.0,102.8 726.1,102.3" fill="none" stroke="#d04858" stroke-width="1.15" stroke-linecap="round"/><polyline points="726.1,102.3 726.4,101.8 726.9,101.4 727.5,101.0 728.3,100.6 729.3,100.4 730.4,100.3 731.5,100.3 732.7,100.4 734.0,100.7 735.3,101.0 736.5,101.6 737.6,102.2 738.7,102.9 739.7,103.8 740.5,104.8 741.1,105.8 741.6,106.9 741.9,108.0 742.0,109.2 741.9,110.3" fill="none" stroke="#e8a0a8" stroke-width="1.15" stroke-linecap="round"/><polyline points="741.9,110.3 741.6,111.4 741.1,112.5 740.5,113.5 739.7,114.5 738.7,115.4 737.6,116.1 736.5,116.7 735.3,117.3 734.0,117.6 732.7,117.9 731.5,118.0 730.4,118.0 729.3,117.9 728.3,117.7 727.5,117.3 726.9,117.0 726.4,116.5 726.1,116.0 726.0,115.5 726.1,115.0" fill="none" stroke="#d04858" stroke-width="1.15" stroke-linecap="round"/><polyline points="726.1,115.0 726.4,114.5 726.9,114.0 727.5,113.6 728.3,113.3 729.3,113.1 730.4,113.0 731.5,113.0 732.7,113.1 734.0,113.3 735.3,113.7 736.5,114.2 737.6,114.9 738.7,115.6 739.7,116.5 740.5,117.4 741.1,118.5 741.6,119.5 741.9,120.7 742.0,121.8 741.9,123.0" fill="none" stroke="#e8a0a8" stroke-width="1.15" stroke-linecap="round"/><polyline points="741.9,123.0 741.6,124.1 741.1,125.2 740.5,126.2 739.7,127.2 738.7,128.0 737.6,128.8 736.5,129.4 735.3,129.9 734.0,130.3 732.7,130.6 731.5,130.7 730.4,130.7 729.3,130.6 728.3,130.3 727.5,130.0 726.9,129.6 726.4,129.2 726.1,128.7 726.0,128.2 726.1,127.6" fill="none" stroke="#d04858" stroke-width="1.15" stroke-linecap="round"/><polyline points="726.1,127.6 726.4,127.1 726.9,126.7 727.5,126.3 728.3,126.0 729.3,125.7 730.4,125.6 731.5,125.6 732.7,125.7 734.0,126.0" fill="none" stroke="#e8a0a8" stroke-width="1.15" stroke-linecap="round"/><path d="M741,88.5 L745.5,87.8 L742.5,91.5 Z" fill="#d04858"/><polyline points="752.0,100.0 752.8,100.2 753.6,100.5 754.4,100.9 755.1,101.4 755.7,101.9 756.2,102.5 756.6,103.1 756.9,103.8 757.1,104.4 757.2,105.1 757.1,105.8" fill="none" stroke="#9898d8" stroke-width="1.15" stroke-linecap="round"/><polyline points="757.1,105.8 756.9,106.5 756.6,107.2 756.2,107.8 755.7,108.4 755.1,108.9 754.4,109.3 753.6,109.7 752.8,110.0 752.0,110.3 751.2,110.4 750.4,110.5 749.6,110.5 748.9,110.4 748.3,110.3 747.8,110.1 747.4,109.9 747.1,109.6 746.9,109.3 746.8,109.0 746.9,108.7" fill="none" stroke="#5050b8" stroke-width="1.15" stroke-linecap="round"/><polyline points="746.9,108.7 747.1,108.4 747.4,108.1 747.8,107.8 748.3,107.7 748.9,107.5 749.6,107.4 750.4,107.4 751.2,107.5 752.0,107.7 752.8,107.9 753.6,108.2 754.4,108.6 755.1,109.0 755.7,109.6 756.2,110.1 756.6,110.8 756.9,111.4 757.1,112.1 757.2,112.8 757.1,113.5" fill="none" stroke="#9898d8" stroke-width="1.15" stroke-linecap="round"/><polyline points="757.1,113.5 756.9,114.2 756.6,114.8 756.2,115.5 755.7,116.0 755.1,116.6 754.4,117.0 753.6,117.4 752.8,117.7 752.0,117.9 751.2,118.1 750.4,118.2 749.6,118.2 748.9,118.1 748.3,118.0 747.8,117.8 747.4,117.5 747.1,117.2 746.9,116.9 746.8,116.6 746.9,116.3" fill="none" stroke="#5050b8" stroke-width="1.15" stroke-linecap="round"/><polyline points="746.9,116.3 747.1,116.0 747.4,115.7 747.8,115.5 748.3,115.3 748.9,115.2 749.6,115.1 750.4,115.1 751.2,115.2 752.0,115.3 752.8,115.6 753.6,115.9 754.4,116.3 755.1,116.7 755.7,117.2 756.2,117.8 756.6,118.4 756.9,119.1 757.1,119.8 757.2,120.5 757.1,121.2" fill="none" stroke="#9898d8" stroke-width="1.15" stroke-linecap="round"/><polyline points="757.1,121.2 756.9,121.8 756.6,122.5 756.2,123.1 755.7,123.7 755.1,124.2 754.4,124.7 753.6,125.1 752.8,125.4 752.0,125.6 751.2,125.8 750.4,125.8 749.6,125.8 748.9,125.8 748.3,125.6 747.8,125.4 747.4,125.2 747.1,124.9 746.9,124.6 746.8,124.3 746.9,124.0" fill="none" stroke="#5050b8" stroke-width="1.15" stroke-linecap="round"/><polyline points="746.9,124.0 747.1,123.7 747.4,123.4 747.8,123.2 748.3,123.0 748.9,122.8 749.6,122.8 750.4,122.8 751.2,122.8 752.0,123.0" fill="none" stroke="#9898d8" stroke-width="1.15" stroke-linecap="round"/><path d="M751,100.2 L747,101.5 L750.5,103.5 Z" fill="#5050b8"/><g fill="none" stroke="#111" stroke-width="1.25"><path d="M814.8,98.9 L851.1,113.4 L822.1,126.4"/></g><path d="M848,112 C842,106 850,105 861,105.5 C870,106 874,110 872.5,115.5 C871,121 860,123.5 850,121.5 C845,120 842,117 846,114.5" fill="none" stroke="#111" stroke-width="0.9"/><path d="M859,120.5 L867,116.5 L868.5,122.5 Z" fill="#d03030"/><text x="856" y="102" font-size="14" font-style="italic" fill="#111" style="font-family:&quot;Liberation Serif&quot;,serif">α</text><defs><pattern id="knurl" width="2.2" height="2.2" patternUnits="userSpaceOnUse" patternTransform="rotate(25)"><rect width="2.2" height="2.2" fill="#7c7c7c"/><rect width="1.1" height="2.2" fill="#5c5c5c"/></pattern><linearGradient id="cylsh" x1="0" y1="0" x2="0.3" y2="1"><stop offset="0" stop-color="#fff" stop-opacity="0.12"/><stop offset="0.5" stop-color="#fff" stop-opacity="0.05"/><stop offset="1" stop-color="#000" stop-opacity="0.2"/></linearGradient></defs><path d="M823.5,156.9 L890.2,190.2 L875.7,223.6 L807.6,184.4 C802,176 812,154 823.5,156.9 Z" fill="url(#knurl)"/><path d="M823.5,156.9 L890.2,190.2 L875.7,223.6 L807.6,184.4 C802,176 812,154 823.5,156.9 Z" fill="url(#cylsh)"/><ellipse cx="887.4" cy="206.2" rx="10.8" ry="17.5" transform="rotate(22 887.4 206.2)" fill="#7a7a7a"/><ellipse cx="887.4" cy="206.2" rx="10.8" ry="17.5" transform="rotate(22 887.4 206.2)" fill="url(#knurl)" opacity="0.45"/><g stroke="#111" stroke-width="1.2"><line x1="852" y1="172.8" x2="852" y2="141"/><line x1="812" y1="165.6" x2="790" y2="155.6"/><line x1="832.2" y1="199" x2="811.5" y2="211.2"/></g><g fill="#111"><path d="M852,136.3 L849.5,142.5 L854.5,142.5 Z"/><path d="M786.4,154 L792.8,154.6 L790.8,158.6 Z"/><path d="M807.6,213.4 L811.8,208.8 L813.8,212.6 Z"/></g><g stroke="#111" stroke-width="0.8" fill="none"><path d="M838.5,250.5 V237"/><path d="M838.5,250.5 L824.5,243"/><path d="M838.5,250.5 L851.5,243"/></g><g fill="#111"><path d="M838.5,233.5 L836.8,238.5 L840.2,238.5 Z"/><path d="M821.5,241.3 L826.5,241.5 L824.8,244.6 Z"/><path d="M854.5,241.3 L849.5,241.6 L851.3,244.6 Z"/></g><g font-size="8" fill="#222"><text x="836" y="232">z</text><text x="814" y="241.5">y</text><text x="855.5" y="242.5">x</text></g><rect x="959" y="26.6" width="12.8" height="85.2" fill="#c8c8c8"/><path d="M924.1,26.6 H1036.2" stroke="#333" stroke-width="0.8"/><path d="M924.1,26.6 V111.8 H1036.2" fill="none" stroke="#333" stroke-width="0.8"/><path d="M1036.2,26.6 V111.8" stroke="#333" stroke-width="0.8" stroke-dasharray="3 1 1 1"/><g stroke="#333" stroke-width="0.6"><line x1="924.1" y1="26.6" x2="922.1" y2="26.6"/><line x1="924.1" y1="47.9" x2="922.1" y2="47.9"/><line x1="924.1" y1="69.2" x2="922.1" y2="69.2"/><line x1="924.1" y1="90.5" x2="922.1" y2="90.5"/><line x1="924.1" y1="111.8" x2="922.1" y2="111.8"/><line x1="924.1" y1="111.8" x2="924.1" y2="113.8"/><line x1="958.2" y1="111.8" x2="958.2" y2="113.8"/><line x1="992.3" y1="111.8" x2="992.3" y2="113.8"/><line x1="1026.4" y1="111.8" x2="1026.4" y2="113.8"/></g><g font-size="7.8" fill="#333" text-anchor="end"><text x="921.5" y="29.4">0.10</text><text x="921.5" y="50.7">0.05</text><text x="921.5" y="72.0">0.00</text><text x="921.5" y="93.3">-0.05</text><text x="921.5" y="114.6">-0.10</text></g><g font-size="7.8" fill="#333" text-anchor="middle"><text x="924.1" y="120.5">400</text><text x="958.2" y="120.5">800</text><text x="992.3" y="120.5">1200</text><text x="1026.4" y="120.5">1600</text></g><text x="980" y="133.5" font-size="10.2" fill="#333" text-anchor="middle">Wavelength (nm)</text><text x="900.5" y="72" font-size="10" font-style="italic" fill="#222" transform="rotate(-90 900.5 72)" text-anchor="middle">g<tspan font-size="6" dy="2" font-style="normal">em</tspan></text><text x="1049" y="69" font-size="7.8" fill="#333" transform="rotate(-90 1049 69)" text-anchor="middle">Normalized <tspan font-style="italic">I</tspan><tspan font-size="5" dy="1.5">CP-SSR</tspan><tspan dy="-1.5"> (a.u.)</tspan></text><polyline points="924.1,69.2 924.5,69.2 925.0,69.2 925.4,69.2 925.8,69.2 926.2,69.2 926.7,69.2 927.1,69.2 927.5,69.2 927.9,69.2 928.4,69.2 928.8,69.2 929.2,69.2 929.6,69.2 930.1,69.2 930.5,69.2 930.9,69.2 931.3,69.2 931.8,69.2 932.2,69.2 932.6,69.2 933.1,69.2 933.5,69.2 933.9,69.2 934.3,69.2 934.8,69.2 935.2,69.2 935.6,69.1 936.0,69.1 936.5,69.1 936.9,69.0 937.3,69.0 937.7,68.9 938.2,68.9 938.6,68.8 939.0,68.7 939.4,68.7 939.9,68.6 940.3,68.5 940.7,68.5 941.1,68.4 941.6,68.3 942.0,68.3 942.4,68.2 942.9,68.1 943.3,68.1 943.7,68.0 944.1,67.9 944.6,67.9 945.0,67.8 945.4,67.8 945.8,67.7 946.3,67.7 946.7,67.6 947.1,67.6 947.5,67.6 948.0,67.5 948.4,67.5 948.8,67.5 949.2,67.5 949.7,67.5 950.1,67.5 950.5,67.5 951.0,67.6 951.4,67.6 951.8,67.6 952.2,67.7 952.7,67.7 953.1,67.8 953.5,67.9 953.9,68.0 954.4,68.1 954.8,68.2 955.2,68.3 955.6,68.4 956.1,68.5 956.5,68.6 956.9,68.8 957.3,68.9 957.8,69.1 958.2,69.2" fill="none" stroke="#f0a030" stroke-width="1.8"/><polyline points="971.0,64.4 971.7,64.2 972.4,62.5 973.0,62.9 973.7,62.0 974.4,60.6 975.1,60.4 975.8,60.7 976.4,58.6 977.1,59.4 977.8,58.8 978.5,57.4 979.2,57.7 979.9,57.2 980.5,57.1 981.2,56.6 981.9,55.3 982.6,55.4 983.3,54.3 983.9,54.2 984.6,53.6 985.3,52.3 986.0,52.7 986.7,52.1 987.4,51.1 988.0,51.9 988.7,51.5 989.4,49.8 990.1,49.5 990.8,50.0 991.4,49.7 992.1,48.4 992.8,47.6 993.5,48.5 994.2,46.8 994.9,46.5 995.5,46.5 996.2,46.4 996.9,46.6 997.6,46.3 998.3,44.3 998.9,45.2 999.6,44.0 1000.3,44.3 1001.0,43.9 1001.7,44.1 1002.4,44.5 1003.0,44.5 1003.7,43.5 1004.4,44.5 1005.1,44.1 1005.8,43.5 1006.5,43.0 1007.1,43.5 1007.8,44.1 1008.5,43.1 1009.2,44.5 1009.9,44.9 1010.5,44.6 1011.2,44.5 1011.9,45.3 1012.6,45.3 1013.3,45.1 1014.0,44.9 1014.6,45.8 1015.3,45.5 1016.0,44.6 1016.7,44.5 1017.4,45.1 1018.0,43.3 1018.7,43.6 1019.4,44.7 1020.1,45.3 1020.8,46.0 1021.5,45.3 1022.1,46.6 1022.8,47.3 1023.5,50.3 1024.2,50.7" fill="none" stroke="#f0a030" stroke-width="2"/><polyline points="924.1,69.2 924.5,69.2 925.0,69.2 925.4,69.2 925.8,69.2 926.2,69.2 926.7,69.2 927.1,69.2 927.5,69.2 927.9,69.2 928.4,69.2 928.8,69.2 929.2,69.2 929.6,69.2 930.1,69.2 930.5,69.2 930.9,69.2 931.3,69.2 931.8,69.2 932.2,69.2 932.6,69.2 933.1,69.2 933.5,69.2 933.9,69.2 934.3,69.2 934.8,69.2 935.2,69.2 935.6,69.2 936.0,69.2 936.5,69.2 936.9,69.2 937.3,69.2 937.7,69.2 938.2,69.2 938.6,69.2 939.0,69.2 939.4,69.2 939.9,69.2 940.3,69.2 940.7,69.2 941.1,69.2 941.6,69.2 942.0,69.2 942.4,69.2 942.9,69.2 943.3,69.2 943.7,69.2 944.1,69.2 944.6,69.2 945.0,69.2 945.4,69.2 945.8,69.2 946.3,69.2 946.7,69.2 947.1,69.2 947.5,69.2 948.0,69.2 948.4,69.2 948.8,69.2 949.2,69.2 949.7,69.2 950.1,69.2 950.5,69.2 951.0,69.2 951.4,69.2 951.8,69.2 952.2,69.2 952.7,69.2 953.1,69.2 953.5,69.2 953.9,69.2 954.4,69.2 954.8,69.2 955.2,69.2 955.6,69.2 956.1,69.2 956.5,69.2 956.9,69.2 957.3,69.2 957.8,69.2 958.2,69.2" fill="none" stroke="#58b4e0" stroke-width="1.8"/><polyline points="971.0,74.4 971.7,75.5 972.4,76.0 973.0,74.6 973.7,76.8 974.4,75.8 975.1,76.5 975.8,77.5 976.4,76.9 977.1,79.0 977.8,79.2 978.5,79.0 979.2,80.4 979.9,79.1 980.5,80.9 981.2,81.5 981.9,82.2 982.6,81.5 983.3,82.3 983.9,82.4 984.6,82.9 985.3,83.0 986.0,83.2 986.7,84.3 987.4,85.8 988.0,85.7 988.7,86.8 989.4,87.7 990.1,87.2 990.8,87.2 991.4,88.9 992.1,89.2 992.8,89.5 993.5,89.3 994.2,90.2 994.9,90.5 995.5,90.7 996.2,92.0 996.9,91.7 997.6,92.0 998.3,94.2 998.9,92.9 999.6,93.9 1000.3,95.7 1001.0,95.5 1001.7,95.7 1002.4,95.6 1003.0,97.3 1003.7,97.4 1004.4,97.3 1005.1,98.0 1005.8,98.2 1006.5,99.8 1007.1,99.9 1007.8,101.4 1008.5,100.9 1009.2,101.2 1009.9,102.1 1010.5,102.5 1011.2,104.1 1011.9,103.2 1012.6,103.6 1013.3,104.1 1014.0,105.3 1014.6,104.7 1015.3,105.5 1016.0,104.0 1016.7,103.8 1017.4,104.5 1018.0,104.6 1018.7,103.3 1019.4,102.4 1020.1,101.2 1020.8,101.0 1021.5,101.1 1022.1,98.4 1022.8,99.0 1023.5,96.3 1024.2,96.4" fill="none" stroke="#58b4e0" stroke-width="2"/><polyline points="924.1,69.2 924.5,69.2 925.0,69.2 925.4,69.2 925.8,69.2 926.2,69.2 926.7,69.2 927.1,69.2 927.5,69.2 927.9,69.2 928.4,69.2 928.8,69.2 929.2,69.2 929.6,69.2 930.1,69.2 930.5,69.2 930.9,69.2 931.3,69.2 931.8,69.2 932.2,69.2 932.6,69.1 933.1,69.0 933.5,68.9 933.9,68.8 934.3,68.6 934.8,68.4 935.2,68.2 935.6,68.0 936.0,67.8 936.5,67.5 936.9,67.3 937.3,67.0 937.7,66.7 938.2,66.5 938.6,66.2 939.0,65.9 939.4,65.6 939.9,65.3 940.3,65.0 940.7,64.7 941.1,64.4 941.6,64.1 942.0,63.8 942.4,63.5 942.9,63.3 943.3,63.0 943.7,62.7 944.1,62.5 944.6,62.3 945.0,62.0 945.4,61.9 945.8,61.7 946.3,61.5 946.7,61.4 947.1,61.3 947.5,61.2 948.0,61.1 948.4,61.1 948.8,61.1 949.2,61.1 949.7,61.2 950.1,61.3 950.5,61.4 951.0,61.6 951.4,61.8 951.8,62.0 952.2,62.3 952.7,62.6 953.1,63.0 953.5,63.3 953.9,63.7 954.4,64.2 954.8,64.6 955.2,65.1 955.6,65.7 956.1,66.2 956.5,66.8 956.9,67.4 957.3,68.0 957.8,68.6 958.2,69.2" fill="none" stroke="#c45464" stroke-width="1.25"/><polyline points="924.1,69.2 924.5,69.2 925.0,69.2 925.4,69.2 925.8,69.2 926.2,69.2 926.7,69.2 927.1,69.2 927.5,69.2 927.9,69.2 928.4,69.2 928.8,69.2 929.2,69.2 929.6,69.2 930.1,69.2 930.5,69.2 930.9,69.2 931.3,69.2 931.8,69.2 932.2,69.2 932.6,69.3 933.1,69.4 933.5,69.5 933.9,69.6 934.3,69.8 934.8,70.0 935.2,70.2 935.6,70.4 936.0,70.6 936.5,70.9 936.9,71.1 937.3,71.4 937.7,71.7 938.2,71.9 938.6,72.2 939.0,72.5 939.4,72.8 939.9,73.1 940.3,73.4 940.7,73.7 941.1,74.0 941.6,74.3 942.0,74.6 942.4,74.9 942.9,75.1 943.3,75.4 943.7,75.7 944.1,75.9 944.6,76.1 945.0,76.4 945.4,76.5 945.8,76.7 946.3,76.9 946.7,77.0 947.1,77.1 947.5,77.2 948.0,77.3 948.4,77.3 948.8,77.3 949.2,77.3 949.7,77.2 950.1,77.1 950.5,77.0 951.0,76.8 951.4,76.6 951.8,76.4 952.2,76.1 952.7,75.8 953.1,75.4 953.5,75.1 953.9,74.7 954.4,74.2 954.8,73.8 955.2,73.3 955.6,72.7 956.1,72.2 956.5,71.6 956.9,71.0 957.3,70.4 957.8,69.8 958.2,69.2" fill="none" stroke="#6258a8" stroke-width="1.25"/><polyline points="971.0,47.7 971.8,47.5 972.7,47.4 973.5,47.6 974.4,47.0 975.2,46.9 976.1,46.9 977.0,46.8 977.8,46.6 978.7,46.8 979.5,46.4 980.4,46.9 981.2,46.5 982.1,46.3 982.9,46.6 983.8,46.2 984.6,45.8 985.5,45.7 986.3,46.0 987.2,45.3 988.0,45.4 988.9,45.6 989.7,45.3 990.6,45.3 991.4,45.2 992.3,45.3 993.2,44.7 994.0,45.0 994.9,44.9 995.7,44.8 996.6,44.6 997.4,45.4 998.3,44.8 999.1,44.7 1000.0,45.1 1000.8,45.0 1001.7,45.3 1002.5,45.2 1003.4,45.1 1004.2,45.3 1005.1,45.2 1005.9,44.7 1006.8,45.0 1007.6,45.1 1008.5,44.8 1009.4,45.2 1010.2,44.9 1011.1,45.2 1011.9,45.1 1012.8,45.8 1013.6,45.5 1014.5,45.4 1015.3,46.1 1016.2,45.5 1017.0,46.2 1017.9,46.1 1018.7,46.4 1019.6,46.3 1020.4,46.3 1021.3,46.9 1022.1,46.2 1023.0,46.8 1023.8,46.8 1024.7,46.9 1025.5,47.2 1026.4,47.4 1027.3,47.2 1028.1,47.4 1029.0,47.8 1029.8,47.6 1030.7,48.1" fill="none" stroke="#c45464" stroke-width="1.25"/><polyline points="971.0,90.9 971.8,90.9 972.7,91.2 973.5,91.3 974.4,90.9 975.2,91.4 976.1,91.1 977.0,91.3 977.8,92.1 978.7,91.4 979.5,91.6 980.4,92.5 981.2,91.9 982.1,92.4 982.9,92.5 983.8,92.2 984.6,93.0 985.5,92.8 986.3,92.6 987.2,92.9 988.0,93.2 988.9,92.8 989.7,93.1 990.6,93.3 991.4,93.8 992.3,93.5 993.2,93.7 994.0,93.9 994.9,94.1 995.7,93.8 996.6,94.1 997.4,93.9 998.3,93.7 999.1,93.9 1000.0,94.1 1000.8,93.8 1001.7,94.0 1002.5,93.7 1003.4,93.9 1004.2,93.4 1005.1,93.4 1005.9,93.6 1006.8,94.0 1007.6,94.0 1008.5,93.3 1009.4,93.3 1010.2,93.4 1011.1,93.5 1011.9,93.5 1012.8,93.1 1013.6,93.1 1014.5,93.0 1015.3,92.8 1016.2,92.6 1017.0,93.0 1017.9,92.8 1018.7,92.1 1019.6,92.0 1020.4,91.9 1021.3,92.5 1022.1,92.4 1023.0,92.0 1023.8,91.8 1024.7,91.4 1025.5,91.7 1026.4,91.2 1027.3,91.5 1028.1,91.3 1029.0,90.7 1029.8,90.6 1030.7,90.4" fill="none" stroke="#6258a8" stroke-width="1.25"/><line x1="996" y1="65" x2="1011" y2="65" stroke="#c45464" stroke-width="1.25"/><line x1="996" y1="73" x2="1011" y2="73" stroke="#6258a8" stroke-width="1.25"/><g font-size="8" fill="#333"><text x="1012.5" y="67.8">RH</text><text x="1012.5" y="75.8">LH</text></g><rect x="905" y="145" width="67" height="70.8" fill="#0e1412"/><g fill="none" stroke="#2e3c38" stroke-width="2.5" opacity="0.8" filter="url(#blur1)"><ellipse cx="938" cy="180" rx="31" ry="33"/><ellipse cx="937" cy="182" rx="23" ry="25" stroke="#26322e"/></g><ellipse cx="939" cy="178" rx="22" ry="25" fill="#34463e" opacity="0.65" filter="url(#blur3)"/><ellipse cx="936" cy="174" rx="12" ry="14" fill="#1e2a26" opacity="0.6" filter="url(#blur3)"/><g fill="#8a9a90" opacity="0.6" filter="url(#blur1)"><ellipse cx="938" cy="147.5" rx="6" ry="1.2"/><ellipse cx="938" cy="211.5" rx="5" ry="1.2"/></g><rect x="973.9" y="145" width="65.7" height="70.8" fill="#050505"/><path d="M914,188.3 Q937,185 959.5,187.5 Q937,190.5 914,188.3 Z" fill="#f4e8e0" filter="url(#blur05)"/><path d="M984.6,188 Q1008,185.6 1032.4,188 Q1008,190.2 984.6,188 Z" fill="#f8f8f8" filter="url(#blur05)"/><text x="1011.5" y="209" font-size="10" fill="#fff">1 cm</text><rect x="1006" y="211.3" width="32" height="1.8" fill="#fff"/><defs><linearGradient id="therm" x1="0" y1="0" x2="0" y2="1"><stop offset="0" stop-color="#2a2690"/><stop offset="0.28" stop-color="#3a2898"/><stop offset="0.42" stop-color="#5a2898"/><stop offset="0.48" stop-color="#b04080"/><stop offset="0.515" stop-color="#f09a40"/><stop offset="0.565" stop-color="#fff4b8"/><stop offset="0.615" stop-color="#f09a40"/><stop offset="0.66" stop-color="#a03a88"/><stop offset="0.74" stop-color="#5a2a9a"/><stop offset="0.88" stop-color="#302494"/><stop offset="1" stop-color="#22207c"/></linearGradient><linearGradient id="cbar2" x1="0" y1="0" x2="0" y2="1"><stop offset="0" stop-color="#fff8b0"/><stop offset="0.25" stop-color="#f8b040"/><stop offset="0.55" stop-color="#c03878"/><stop offset="0.8" stop-color="#501c80"/><stop offset="1" stop-color="#120c40"/></linearGradient></defs><rect x="905" y="217.5" width="134.6" height="46.1" fill="url(#therm)"/><text x="997.5" y="229.5" font-size="11.5" fill="#fff">1160 °C</text><rect x="1044.4" y="223.4" width="4.8" height="37.1" fill="url(#cbar2)"/><g font-size="7.5" fill="#444"><text x="1051" y="226">1200</text><text x="1051" y="245">850</text><text x="1051" y="264">500 (°C)</text></g><line x1="1043" y1="223.4" x2="1051" y2="223.4" stroke="#444" stroke-width="0.6"/></g><g id="pd"><defs><clipPath id="dAtop"><ellipse cx="544.4" cy="386.5" rx="43.8" ry="15.5"/></clipPath><clipPath id="dAup"><rect x="498.59999999999997" y="365.0" width="91.6" height="21.5"/></clipPath><clipPath id="dAdn"><rect x="498.59999999999997" y="386.5" width="91.6" height="25.0"/></clipPath><linearGradient id="dArim" x1="0" y1="0" x2="1" y2="0"><stop offset="0" stop-color="#a0a0a0"/><stop offset="0.35" stop-color="#cfcfcf"/><stop offset="1" stop-color="#aaaaaa"/></linearGradient><pattern id="dApat" width="2.6" height="2.6" patternUnits="userSpaceOnUse" patternTransform="rotate(150)"><rect width="2.6" height="2.6" fill="#383838"/><rect width="1.17" height="2.6" fill="#727272"/></pattern><pattern id="dApat2" width="2.6" height="2.6" patternUnits="userSpaceOnUse" patternTransform="rotate(30)"><rect width="2.6" height="2.6" fill="#3a3a3a"/><rect width="1.17" height="2.6" fill="#6a6a6a"/></pattern><radialGradient id="dAsh" cx="0.4" cy="0.3" r="0.8"><stop offset="0" stop-color="#fff" stop-opacity="0.06"/><stop offset="1" stop-color="#000" stop-opacity="0.22"/></radialGradient></defs><path d="M500.6,386.5 A43.8,15.5 0 0 0 588.2,386.5 L588.2,392.0 A43.8,15.5 0 0 1 500.6,392.0 Z" fill="url(#dArim)"/><ellipse cx="544.4" cy="386.5" rx="43.8" ry="15.5" fill="#bdbdbd"/><ellipse cx="544.4" cy="385.7" rx="42.0" ry="14.0" fill="url(#dApat)" clip-path="url(#dAup)"/><ellipse cx="544.4" cy="385.7" rx="42.0" ry="14.0" fill="url(#dApat2)" clip-path="url(#dAdn)"/><ellipse cx="544.4" cy="385.7" rx="42.0" ry="14.0" fill="url(#dAsh)"/><g clip-path="url(#dAtop)"><g stroke="#d07040" stroke-width="0.8" opacity="0.75"><line x1="556.0" y1="377.0" x2="551.0" y2="395.0"/><line x1="559.0" y1="377.3" x2="554.0" y2="395.3"/><line x1="562.0" y1="377.6" x2="557.0" y2="395.6"/><line x1="565.0" y1="377.9" x2="560.0" y2="395.9"/><line x1="568.0" y1="378.2" x2="563.0" y2="396.2"/><line x1="571.0" y1="378.5" x2="566.0" y2="396.5"/><line x1="574.0" y1="378.8" x2="569.0" y2="396.8"/><line x1="577.0" y1="379.1" x2="572.0" y2="397.1"/><line x1="580.0" y1="379.4" x2="575.0" y2="397.4"/></g></g><defs><clipPath id="profclip"><rect x="498" y="303" width="88" height="82"/></clipPath><filter id="pb4" x="-30%" y="-50%" width="160%" height="200%"><feGaussianBlur stdDeviation="3.0"/></filter><filter id="pb2" x="-30%" y="-50%" width="160%" height="200%"><feGaussianBlur stdDeviation="1.5"/></filter><filter id="pb1" x="-30%" y="-50%" width="160%" height="200%"><feGaussianBlur stdDeviation="0.9"/></filter></defs><g clip-path="url(#profclip)"><g filter="url(#pb4)"><ellipse cx="541.5" cy="301.7" rx="31.5" ry="10.0" fill="none" stroke="#5a3a9a" stroke-width="10" opacity="0.75"/><ellipse cx="541.5" cy="323.6" rx="31.5" ry="10.0" fill="none" stroke="#5a3a9a" stroke-width="10" opacity="0.75"/><ellipse cx="541.5" cy="346.0" rx="31.5" ry="10.0" fill="none" stroke="#5a3a9a" stroke-width="10" opacity="0.75"/><ellipse cx="541.5" cy="368.2" rx="31.5" ry="10.0" fill="none" stroke="#5a3a9a" stroke-width="10" opacity="0.75"/></g><g filter="url(#pb2)"><ellipse cx="541.5" cy="301.7" rx="29.5" ry="7.5" fill="none" stroke="#b03a78" stroke-width="7"/><ellipse cx="539.5" cy="301.7" rx="23.6" ry="5.2" fill="#8a2050" opacity="0.9"/><ellipse cx="541.5" cy="323.6" rx="29.5" ry="7.5" fill="none" stroke="#b03a78" stroke-width="7"/><ellipse cx="539.5" cy="323.6" rx="23.6" ry="5.2" fill="#8a2050" opacity="0.9"/><ellipse cx="541.5" cy="346.0" rx="29.5" ry="7.5" fill="none" stroke="#b03a78" stroke-width="7"/><ellipse cx="539.5" cy="346.0" rx="23.6" ry="5.2" fill="#8a2050" opacity="0.9"/><ellipse cx="541.5" cy="368.2" rx="29.5" ry="7.5" fill="none" stroke="#b03a78" stroke-width="7"/><ellipse cx="539.5" cy="368.2" rx="23.6" ry="5.2" fill="#8a2050" opacity="0.9"/></g><g filter="url(#pb2)"><path d="M514.0,297.2 A29.5,7.5 0 1 0 557.7,295.3" fill="none" stroke="#f07a40" stroke-width="6.5"/><path d="M514.0,319.1 A29.5,7.5 0 1 0 557.7,317.2" fill="none" stroke="#f07a40" stroke-width="6.5"/><path d="M514.0,341.5 A29.5,7.5 0 1 0 557.7,339.6" fill="none" stroke="#f07a40" stroke-width="6.5"/><path d="M514.0,363.7 A29.5,7.5 0 1 0 557.7,361.8" fill="none" stroke="#f07a40" stroke-width="6.5"/></g><g filter="url(#pb1)"><path d="M515.0,299.4 A28.5,7.0 0 1 0 559.2,296.1" fill="none" stroke="#ffe07a" stroke-width="3.4"/><path d="M515.0,321.4 A28.5,7.0 0 1 0 559.2,318.0" fill="none" stroke="#ffe07a" stroke-width="3.4"/><path d="M515.0,343.8 A28.5,7.0 0 1 0 559.2,340.4" fill="none" stroke="#ffe07a" stroke-width="3.4"/><path d="M515.0,365.9 A28.5,7.0 0 1 0 559.2,362.6" fill="none" stroke="#ffe07a" stroke-width="3.4"/></g></g><g font-size="9" fill="#333"><text x="532.2" y="301.5" style="font-family:'Liberation Serif',serif">Profile</text><text x="597.6" y="301.5" style="font-family:'Liberation Serif',serif">State</text></g><rect x="594.4" y="304.5" width="23.9" height="74.2" fill="#f6e6e8"/><path d="M599.2,306.5 L611.5,306.5 C615.0,306.5 615.0,309.9 611.5,309.9 L601.2,309.9 C597.7,309.9 597.7,313.2 601.2,313.2 L611.5,313.2 C615.0,313.2 615.0,316.6 611.5,316.6 L601.2,316.6 C597.7,316.6 597.7,319.9 601.2,319.9 L611.5,319.9 C615.0,319.9 615.0,323.2 611.5,323.2 L601.2,323.2 C597.7,323.2 597.7,326.6 601.2,326.6 L611.5,326.6 C615.0,326.6 615.0,330.0 611.5,330.0 L601.2,329.9 C597.7,329.9 597.7,333.3 601.2,333.3 L611.5,333.3 C615.0,333.3 615.0,336.7 611.5,336.7 L601.2,336.6 C597.7,336.6 597.7,340.0 601.2,340.0 L611.5,340.0 C615.0,340.0 615.0,343.4 611.5,343.4 L601.2,343.4 C597.7,343.4 597.7,346.7 601.2,346.7 L611.5,346.7 C615.0,346.7 615.0,350.1 611.5,350.1 L601.2,350.1 C597.7,350.1 597.7,353.4 601.2,353.4 L611.5,353.4 C615.0,353.4 615.0,356.8 611.5,356.8 L601.2,356.8 C597.7,356.8 597.7,360.1 601.2,360.1 L611.5,360.1 C615.0,360.1 615.0,363.5 611.5,363.5 L601.2,363.4 C597.7,363.4 597.7,366.8 601.2,366.8 L611.5,366.8 C615.0,366.8 615.0,370.2 611.5,370.2 L601.2,370.1 C597.7,370.1 597.7,373.5 601.2,373.5 " fill="none" stroke="#d46070" stroke-width="1.5"/><rect x="594.4" y="373.5" width="23.9" height="5.2" fill="#3a0a12"/><path d="M594.9,304.5 V378.7 M617.8,304.5 V378.7" stroke="#6a3a3a" stroke-width="1"/><line x1="516.6" y1="412" x2="510" y2="416.5" stroke="#111" stroke-width="1"/><path d="M507.5,418.2 L509.5,413.8 L512,417 Z" fill="#111"/><defs><filter id="bmb" x="-50%" y="-50%" width="200%" height="200%"><feGaussianBlur stdDeviation="2.7"/></filter></defs><g filter="url(#bmb)"><ellipse cx="470" cy="446" rx="34" ry="12.5" fill="#e4d0e6" opacity="0.7"/><ellipse cx="470" cy="447" rx="16" ry="7" fill="#a86aa8"/><ellipse cx="497" cy="448" rx="9" ry="7" fill="#f2dcd0"/><ellipse cx="487" cy="441.5" rx="11" ry="5" fill="#b4d4ec"/><ellipse cx="472" cy="439.5" rx="12" ry="5" fill="#6a86d8"/><ellipse cx="455" cy="442" rx="13" ry="7" fill="#8044c4"/><ellipse cx="482" cy="452.5" rx="11" ry="4.5" fill="#f08a68"/><ellipse cx="466" cy="453" rx="10" ry="4.8" fill="#d04468"/><ellipse cx="457" cy="448" rx="9" ry="5.5" fill="#3e0a52"/><ellipse cx="474" cy="446.3" rx="5" ry="2.2" fill="#ffffff"/></g><g stroke="#333" stroke-width="0.7" fill="none"><path d="M413,491 V503 L425,498"/><path d="M413,503 L420,507"/></g><defs><clipPath id="dBtop"><ellipse cx="472" cy="531" rx="58" ry="28"/></clipPath><clipPath id="dBup"><rect x="412" y="497" width="120" height="34"/></clipPath><clipPath id="dBdn"><rect x="412" y="531" width="120" height="39.5"/></clipPath><linearGradient id="dBrim" x1="0" y1="0" x2="1" y2="0"><stop offset="0" stop-color="#a0a0a0"/><stop offset="0.35" stop-color="#cfcfcf"/><stop offset="1" stop-color="#aaaaaa"/></linearGradient><pattern id="dBpat" width="3.4" height="3.4" patternUnits="userSpaceOnUse" patternTransform="rotate(158)"><rect width="3.4" height="3.4" fill="#383838"/><rect width="1.53" height="3.4" fill="#727272"/></pattern><pattern id="dBpat2" width="3.4" height="3.4" patternUnits="userSpaceOnUse" patternTransform="rotate(22)"><rect width="3.4" height="3.4" fill="#3a3a3a"/><rect width="1.53" height="3.4" fill="#6a6a6a"/></pattern><radialGradient id="dBsh" cx="0.4" cy="0.3" r="0.8"><stop offset="0" stop-color="#fff" stop-opacity="0.06"/><stop offset="1" stop-color="#000" stop-opacity="0.22"/></radialGradient></defs><path d="M414.0,531.0 A58,28 0 0 0 530.0,531.0 L530.0,538.5 A58,28 0 0 1 414.0,538.5 Z" fill="url(#dBrim)"/><ellipse cx="472" cy="531" rx="58" ry="28" fill="#bdbdbd"/><ellipse cx="472" cy="529.6" rx="55.7" ry="25.2" fill="url(#dBpat)" clip-path="url(#dBup)"/><ellipse cx="472" cy="529.6" rx="55.7" ry="25.2" fill="url(#dBpat2)" clip-path="url(#dBdn)"/><g fill="#4a4a4a"><rect x="422.1" y="515.5" width="1.5" height="4" fill="#404040"/><rect x="425.4" y="513.1" width="1.5" height="4" fill="#5a5a5a"/><rect x="428.7" y="511.2" width="1.5" height="4" fill="#404040"/><rect x="431.9" y="509.6" width="1.5" height="4" fill="#5a5a5a"/><rect x="435.2" y="508.2" width="1.5" height="4" fill="#404040"/><rect x="438.5" y="507.0" width="1.5" height="4" fill="#5a5a5a"/><rect x="441.8" y="506.0" width="1.5" height="4" fill="#404040"/><rect x="445.0" y="505.2" width="1.5" height="4" fill="#5a5a5a"/><rect x="448.3" y="504.4" width="1.5" height="4" fill="#404040"/><rect x="451.6" y="503.8" width="1.5" height="4" fill="#5a5a5a"/><rect x="454.9" y="503.3" width="1.5" height="4" fill="#404040"/><rect x="458.2" y="502.9" width="1.5" height="4" fill="#5a5a5a"/><rect x="461.4" y="502.6" width="1.5" height="4" fill="#404040"/><rect x="464.7" y="502.4" width="1.5" height="4" fill="#5a5a5a"/><rect x="468.0" y="502.2" width="1.5" height="4" fill="#404040"/><rect x="471.3" y="502.2" width="1.5" height="4" fill="#5a5a5a"/><rect x="474.5" y="502.2" width="1.5" height="4" fill="#404040"/><rect x="477.8" y="502.4" width="1.5" height="4" fill="#5a5a5a"/><rect x="481.1" y="502.6" width="1.5" height="4" fill="#404040"/><rect x="484.4" y="502.9" width="1.5" height="4" fill="#5a5a5a"/><rect x="487.6" y="503.3" width="1.5" height="4" fill="#404040"/><rect x="490.9" y="503.8" width="1.5" height="4" fill="#5a5a5a"/><rect x="494.2" y="504.4" width="1.5" height="4" fill="#404040"/><rect x="497.5" y="505.2" width="1.5" height="4" fill="#5a5a5a"/><rect x="500.7" y="506.0" width="1.5" height="4" fill="#404040"/><rect x="504.0" y="507.0" width="1.5" height="4" fill="#5a5a5a"/><rect x="507.3" y="508.2" width="1.5" height="4" fill="#404040"/><rect x="510.6" y="509.6" width="1.5" height="4" fill="#5a5a5a"/><rect x="513.8" y="511.2" width="1.5" height="4" fill="#404040"/><rect x="517.1" y="513.1" width="1.5" height="4" fill="#5a5a5a"/><rect x="520.4" y="515.5" width="1.5" height="4" fill="#404040"/></g><ellipse cx="472" cy="529.6" rx="55.7" ry="25.2" fill="url(#dBsh)"/><rect x="566.9" y="432.7" width="111.2" height="112.7" fill="none" stroke="#999" stroke-width="0.8"/><rect x="571.1" y="528.5" width="7.0" height="16.9" fill="#000"/><rect x="579.1" y="526.2" width="7.0" height="19.2" fill="#000"/><rect x="587.1" y="521.7" width="7.0" height="23.7" fill="#000"/><rect x="595.1" y="517.2" width="7.0" height="28.2" fill="#000"/><rect x="603.0" y="508.2" width="7.0" height="37.2" fill="#000"/><rect x="611.0" y="507.1" width="7.0" height="38.3" fill="#000"/><rect x="619.0" y="462.0" width="7.0" height="83.4" fill="#000"/><rect x="627.0" y="484.5" width="7.0" height="60.9" fill="#000"/><rect x="635.0" y="500.3" width="7.0" height="45.1" fill="#000"/><rect x="643.0" y="511.6" width="7.0" height="33.8" fill="#000"/><rect x="650.9" y="520.6" width="7.0" height="24.8" fill="#000"/><rect x="658.9" y="525.1" width="7.0" height="20.3" fill="#000"/><rect x="666.9" y="526.2" width="7.0" height="19.2" fill="#000"/><g font-size="11.5" fill="#222" text-anchor="end" style="font-family:'Liberation Serif',serif"><text x="565" y="436.7" style="font-family:'Liberation Serif',serif">1</text><text x="565" y="459.2" style="font-family:'Liberation Serif',serif">0.8</text><text x="565" y="481.8" style="font-family:'Liberation Serif',serif">0.6</text><text x="565" y="504.3" style="font-family:'Liberation Serif',serif">0.4</text><text x="565" y="526.9" style="font-family:'Liberation Serif',serif">0.2</text><text x="565" y="549.4" style="font-family:'Liberation Serif',serif">0</text></g><g font-size="11.5" fill="#222" text-anchor="middle" style="font-family:'Liberation Serif',serif"><text x="574.6" y="557.5" style="font-family:'Liberation Serif',serif">-5</text><text x="590.6" y="557.5" style="font-family:'Liberation Serif',serif">-3</text><text x="606.5" y="557.5" style="font-family:'Liberation Serif',serif">-1</text><text x="622.5" y="557.5" style="font-family:'Liberation Serif',serif">1</text><text x="638.5" y="557.5" style="font-family:'Liberation Serif',serif">3</text><text x="654.4" y="557.5" style="font-family:'Liberation Serif',serif">5</text><text x="670.4" y="557.5" style="font-family:'Liberation Serif',serif">7</text></g><text x="585.3" y="449" font-size="11.5" fill="#222" style="font-family:'Liberation Serif',serif"><tspan font-style="italic">λ</tspan> = 1.499 <tspan font-style="italic">μm</tspan></text><text x="619.5" y="574" font-size="12.5" font-style="italic" fill="#222" style="font-family:'Liberation Serif',serif">ℓ</text><text x="537" y="492" font-size="12.5" font-style="italic" fill="#222" style="font-family:'Liberation Serif',serif">ε</text></g><g id="pe"><defs><linearGradient id="subfront" x1="0" y1="0" x2="0" y2="1"><stop offset="0" stop-color="#a9d5ee"/><stop offset="1" stop-color="#c2e2f4"/></linearGradient><linearGradient id="subright" x1="0" y1="0" x2="1" y2="0"><stop offset="0" stop-color="#9ccbe8"/><stop offset="1" stop-color="#b4dcf2"/></linearGradient></defs><path d="M699,485.7 L760,452.4 L846.7,452.4 L791,485.7 Z" fill="#b0d8ee"/><path d="M699,485.7 L791,485.7 L791,538 L699,538 Z" fill="url(#subfront)"/><path d="M791,485.7 L846.7,452.4 L846.7,504.8 L791,538 Z" fill="url(#subright)"/><path d="M754,486 L800,486 L846.7,458 L846.7,490 L800,510 L754,510 Z" fill="#8fc2e2" opacity="0.55"/><path d="M699,538 L791,538 L791,544.4 L699,544.4 Z" fill="#7a6a10"/><path d="M699,536.5 L791,536.5 L791,539 L699,539 Z" fill="#c8b030"/><path d="M791,538 L846.7,504.8 L846.7,509.5 L791,544.4 Z" fill="#a89020"/><path d="M698.5,392.1 L747.5,357.8 L846.7,357.8 L799,392.1 Z" fill="#cfd2da" opacity="0.95"/><g fill="none" stroke-width="0.6"><path d="M770,378 L792,371" stroke="#7a7aa8"/><path d="M778,382 L790,370 L790,383" stroke="#c06070"/><path d="M775,388 L795,384" stroke="#c06070"/></g><text x="762" y="383" font-size="7" font-style="italic" fill="#5a5a88">x</text><path d="M789.6,315.4 C792.8,322 791.5,328.5 784,331.6 C776.0,321.6 761.5,315.6 761.7,323.1 C761.8,330.1 772.0,333.1 784.0,331.6 C793.5,336.0 792.7,352.1 783.2,357.1 C775.2,347.1 760.7,341.1 760.9,348.6 C761.0,355.6 771.2,358.6 783.2,357.1 C792.7,361.5 799.0,378.5 789.5,383.5 C780.0,366.5 763.5,360.5 763.7,366.5 C764.0,374.5 777.5,385.0 789.5,383.5 C799.0,387.9 793.6,403.5 784.1,408.5 C776.1,398.5 761.6,392.5 761.8,400.0 C761.9,407.0 772.1,410.0 784.1,408.5 C793.6,412.9 792.1,430.5 782.6,435.5 C774.6,425.5 760.1,419.5 760.3,427.0 C760.4,434.0 770.6,437.0 782.6,435.5 C790.6,438.5 788.6,441.5 785.6,444.5" fill="none" stroke="#151515" stroke-width="2.2" stroke-linecap="round"/><defs><linearGradient id="pilg" x1="0" y1="0" x2="1" y2="0"><stop offset="0" stop-color="#2a2a2e"/><stop offset="0.2" stop-color="#5a5550"/><stop offset="0.35" stop-color="#2e2c2a"/><stop offset="0.55" stop-color="#4a4540"/><stop offset="0.75" stop-color="#2a2826"/><stop offset="1" stop-color="#3a3a40"/></linearGradient><linearGradient id="pilfade" x1="0" y1="0" x2="0" y2="1"><stop offset="0" stop-color="#5a8ab8" stop-opacity="0"/><stop offset="1" stop-color="#5a8ab8" stop-opacity="0.55"/></linearGradient></defs><path d="M753,433 L771.7,430 L771.7,463.7 L753,466 Z" fill="#2e2e2e"/><path d="M753,433 L760,428.5 L776,427 L771.7,430 Z" fill="#c4c4c4"/><path d="M753,433 L771.7,430 L771.7,436 L753,439 Z" fill="#9a9a9a"/><path d="M795.7,435 L818,432 L818,466.2 L795.7,468 Z" fill="#363636"/><path d="M795.7,435 L818,432 L818,437.5 L795.7,440.5 Z" fill="#a8a8a8"/><path d="M795.7,435 L801,431.5 L822,429.5 L818,432 Z" fill="#c8c8c8"/><path d="M726.0,450.0 L726.0,478.1 A14,6 0 0 0 754.0,474.1 L754.0,444.0 Z" fill="url(#pilg)"/><ellipse cx="740" cy="447" rx="14.3" ry="6" fill="#c2c2c4" transform="rotate(-16 740 447)"/><path d="M770.4,451.0 L770.4,478.1 A14,6 0 0 0 798.4,474.1 L798.4,445.0 Z" fill="url(#pilg)"/><ellipse cx="784.4" cy="448" rx="14.3" ry="6" fill="#c2c2c4" transform="rotate(-16 784.4 448)"/><path d="M726.2,462 L753.8,462 L753.8,476.4 A13.8,7.7 0 0 1 726.2,476.4 Z" fill="url(#pilfade)"/><path d="M770.6,462 L798.2,462 L798.2,476.1 A13.8,8 0 0 1 770.6,476.1 Z" fill="url(#pilfade)"/><g stroke="#fff" stroke-width="1.1"><line x1="763" y1="458" x2="774" y2="464"/><line x1="781" y1="464" x2="800" y2="453"/></g><g fill="#fff"><path d="M761,457 L765.5,457.3 L763.8,460 Z"/><path d="M776,465 L771.5,464.8 L773.2,462 Z"/><path d="M779,465.3 L781.6,461.6 L783,464.5 Z"/><path d="M802,452 L799.4,455.6 L798,452.8 Z"/></g><g font-size="8.5" font-style="italic" fill="#fff" style="font-family:'Liberation Serif',serif"><text x="761" y="471">D</text><text x="789" y="465">D</text><text x="755" y="448">θ</text><text x="801" y="446">θ</text></g><g fill="none" stroke-width="0.9" stroke-dasharray="2.5 1.8"><path d="M704.8,416 V530 Q704.8,536.5 710,536.5 Q715.5,536.5 715.5,530 V452" stroke="#c05a5a"/><path d="M862.5,418 V497 Q862.5,502 857,502 Q851.4,502 851.4,497 V486" stroke="#3a5a88"/><path d="M699,449.2 H727.6" stroke="#555"/><path d="M845,452.4 H869" stroke="#555"/></g><g stroke-width="1.1"><line x1="718" y1="451" x2="718" y2="424" stroke="#c05a5a"/><line x1="849.8" y1="452" x2="849.8" y2="423" stroke="#3a5a88"/></g><g><path d="M718,420.6 L716,425.5 L720,425.5 Z" fill="#c05a5a"/><path d="M704.8,413 L703,417.5 L706.6,417.5 Z" fill="#c05a5a"/><path d="M849.8,419 L847.8,424 L851.8,424 Z" fill="#3a5a88"/><path d="M862.5,415 L860.7,419.5 L864.3,419.5 Z" fill="#3a5a88"/></g><g font-size="9" fill="#c87878"><text x="682" y="409.4">e<tspan font-size="6" dy="-3.5">2iφ</tspan><tspan dy="3.5" font-style="italic">J</tspan><tspan font-size="6" dy="-3.5">2</tspan><tspan dy="3.5">|</tspan><tspan font-style="italic" font-weight="bold">φ</tspan><tspan font-size="6" dy="2">top</tspan><tspan dy="-2">⟩</tspan></text><text x="720" y="427">|<tspan font-style="italic" font-weight="bold">φ</tspan><tspan font-size="6" dy="2">top</tspan><tspan dy="-2">⟩</tspan></text></g><g font-size="9" fill="#5a78a8"><text x="838.3" y="409.4">e<tspan font-size="6" dy="-3.5">2iφ</tspan><tspan dy="3.5" font-style="italic">J</tspan>|<tspan font-style="italic" font-weight="bold">φ</tspan><tspan font-size="6" dy="2">bot</tspan><tspan dy="-2">⟩</tspan></text><text x="826.3" y="424.3">|<tspan font-style="italic" font-weight="bold">φ</tspan><tspan font-size="6" dy="2">bot</tspan><tspan dy="-2">⟩</tspan></text></g><text x="753" y="421.5" font-size="10" fill="#222"><tspan font-style="italic">α</tspan> + 90°</text><path d="M752,425.5 Q775,423 790,430" fill="none" stroke="#777" stroke-width="0.5"/><text x="821.5" y="432.6" font-size="10" font-style="italic" fill="#222">α</text><path d="M812,432 Q818,430 822,434" fill="none" stroke="#777" stroke-width="0.5"/><text x="826" y="466" font-size="8" font-style="italic" fill="#222">W</text><text x="818" y="484" font-size="8" font-style="italic" fill="#222">L</text><g stroke="#444" stroke-width="0.7"><line x1="816" y1="460" x2="823" y2="470"/><line x1="806" y1="476" x2="818" y2="478"/></g><g stroke="#3a5a80" stroke-width="0.9" fill="none"><path d="M818,503 V488"/><path d="M818,503 H832"/><path d="M818,503 V509"/></g><g fill="#3a5a80"><path d="M818,485.7 L816.3,490 L819.7,490 Z"/><path d="M834.5,503 L830.2,501.3 L830.2,504.7 Z"/></g><g font-size="8" font-style="italic" fill="#3a5a80"><text x="813" y="490">z</text><text x="835" y="506">y</text><text x="815.5" y="517">x</text></g><defs><linearGradient id="afm" x1="0" y1="1" x2="0" y2="0"><stop offset="0" stop-color="#000"/><stop offset="0.35" stop-color="#5a2a10"/><stop offset="0.7" stop-color="#d0904a"/><stop offset="1" stop-color="#fffcf0"/></linearGradient></defs><rect x="916.4" y="323.8" width="128.0" height="79.4" fill="#050202"/><defs><clipPath id="hm1c"><rect x="916.4" y="323.8" width="128.0" height="79.4"/></clipPath></defs><g clip-path="url(#hm1c)"><polyline points="916.4,343.8 918.0,345.5 919.6,347.2 921.2,348.8 922.8,350.4 924.4,351.9 926.0,353.4 927.6,354.8 929.2,356.2 930.8,357.6 932.4,358.9 934.0,360.2 935.6,361.4 937.2,362.6 938.8,363.7 940.4,364.8 942.0,365.9 943.6,366.9 945.2,367.9 946.8,368.8 948.4,369.7 950.0,370.5 951.6,371.3 953.2,372.1 954.8,372.8 956.4,373.4 958.0,374.1 959.6,374.7 961.2,375.2 962.8,375.7 964.4,376.1 966.0,376.6 967.6,376.9 969.2,377.2 970.8,377.5 972.4,377.8 974.0,378.0 975.6,378.1 977.2,378.2 978.8,378.3 980.4,378.3 982.0,378.3 983.6,378.2 985.2,378.1 986.8,378.0 988.4,377.8 990.0,377.5 991.6,377.2 993.2,376.9 994.8,376.6 996.4,376.1 998.0,375.7 999.6,375.2 1001.2,374.7 1002.8,374.1 1004.4,373.4 1006.0,372.8 1007.6,372.1 1009.2,371.3 1010.8,370.5 1012.4,369.7 1014.0,368.8 1015.6,367.9 1017.2,366.9 1018.8,365.9 1020.4,364.8 1022.0,363.7 1023.6,362.6 1025.2,361.4 1026.8,360.2 1028.4,358.9 1030.0,357.6 1031.6,356.2 1033.2,354.8 1034.8,353.4 1036.4,351.9 1038.0,350.4 1039.6,348.8 1041.2,347.2 1042.8,345.5 1044.4,343.8" fill="none" stroke="#d07020" stroke-width="5" opacity="0.6" filter="url(#blur1)"/><polyline points="916.4,343.8 918.0,345.5 919.6,347.2 921.2,348.8 922.8,350.4 924.4,351.9 926.0,353.4 927.6,354.8 929.2,356.2 930.8,357.6 932.4,358.9 934.0,360.2 935.6,361.4 937.2,362.6 938.8,363.7 940.4,364.8 942.0,365.9 943.6,366.9 945.2,367.9 946.8,368.8 948.4,369.7 950.0,370.5 951.6,371.3 953.2,372.1 954.8,372.8 956.4,373.4 958.0,374.1 959.6,374.7 961.2,375.2 962.8,375.7 964.4,376.1 966.0,376.6 967.6,376.9 969.2,377.2 970.8,377.5 972.4,377.8 974.0,378.0 975.6,378.1 977.2,378.2 978.8,378.3 980.4,378.3 982.0,378.3 983.6,378.2 985.2,378.1 986.8,378.0 988.4,377.8 990.0,377.5 991.6,377.2 993.2,376.9 994.8,376.6 996.4,376.1 998.0,375.7 999.6,375.2 1001.2,374.7 1002.8,374.1 1004.4,373.4 1006.0,372.8 1007.6,372.1 1009.2,371.3 1010.8,370.5 1012.4,369.7 1014.0,368.8 1015.6,367.9 1017.2,366.9 1018.8,365.9 1020.4,364.8 1022.0,363.7 1023.6,362.6 1025.2,361.4 1026.8,360.2 1028.4,358.9 1030.0,357.6 1031.6,356.2 1033.2,354.8 1034.8,353.4 1036.4,351.9 1038.0,350.4 1039.6,348.8 1041.2,347.2 1042.8,345.5 1044.4,343.8" fill="none" stroke="#ffdc98" stroke-width="1.9"/><polyline points="916.4,371.4 917.5,372.5 918.5,373.6 919.6,374.6 920.7,375.7 921.7,376.7 922.8,377.8 923.9,378.9 924.9,379.9 926.0,381.0 927.1,382.0 928.1,383.1 929.2,384.1 930.3,385.2 931.3,386.3 932.4,387.3 933.5,388.4 934.5,389.4 935.6,390.5 936.7,391.6 937.7,392.6 938.8,393.7 939.9,394.7 940.9,395.8 942.0,396.8 943.1,397.9 944.1,399.0 945.2,400.0 946.3,401.1 947.3,402.1 948.4,403.2" fill="none" stroke="#7a2a18" stroke-width="1.5" opacity="0.7"/><polyline points="916.4,379.4 917.5,380.3 918.5,381.2 919.6,382.1 920.7,383.0 921.7,383.9 922.8,384.8 923.9,385.7 924.9,386.6 926.0,387.5 927.1,388.4 928.1,389.3 929.2,390.2 930.3,391.1 931.3,392.0 932.4,392.9 933.5,393.8 934.5,394.7 935.6,395.6 936.7,396.5 937.7,397.4 938.8,398.3 939.9,399.2 940.9,400.1 942.0,401.0 943.1,401.9 944.1,402.8 945.2,403.7 946.3,404.6 947.3,405.5 948.4,406.4" fill="none" stroke="#8a3420" stroke-width="3.5" opacity="0.75" filter="url(#blur1)"/><polyline points="1044.4,371.4 1043.3,372.5 1042.3,373.6 1041.2,374.6 1040.1,375.7 1039.1,376.7 1038.0,377.8 1036.9,378.9 1035.9,379.9 1034.8,381.0 1033.7,382.0 1032.7,383.1 1031.6,384.1 1030.5,385.2 1029.5,386.3 1028.4,387.3 1027.3,388.4 1026.3,389.4 1025.2,390.5 1024.1,391.6 1023.1,392.6 1022.0,393.7 1020.9,394.7 1019.9,395.8 1018.8,396.8 1017.7,397.9 1016.7,399.0 1015.6,400.0 1014.5,401.1 1013.5,402.1 1012.4,403.2" fill="none" stroke="#7a2a18" stroke-width="1.5" opacity="0.7"/><polyline points="1044.4,379.4 1043.3,380.3 1042.3,381.2 1041.2,382.1 1040.1,383.0 1039.1,383.9 1038.0,384.8 1036.9,385.7 1035.9,386.6 1034.8,387.5 1033.7,388.4 1032.7,389.3 1031.6,390.2 1030.5,391.1 1029.5,392.0 1028.4,392.9 1027.3,393.8 1026.3,394.7 1025.2,395.6 1024.1,396.5 1023.1,397.4 1022.0,398.3 1020.9,399.2 1019.9,400.1 1018.8,401.0 1017.7,401.9 1016.7,402.8 1015.6,403.7 1014.5,404.6 1013.5,405.5 1012.4,406.4" fill="none" stroke="#8a3420" stroke-width="3.5" opacity="0.75" filter="url(#blur1)"/></g><rect x="916.3" y="445.5" width="128.0" height="77.9" fill="#050202"/><defs><clipPath id="hm2c"><rect x="916.3" y="445.5" width="128.0" height="77.9"/></clipPath></defs><g clip-path="url(#hm2c)"><polyline points="916.3,465.5 917.9,467.2 919.5,468.9 921.1,470.5 922.7,472.1 924.3,473.6 925.9,475.1 927.5,476.5 929.1,477.9 930.7,479.3 932.3,480.6 933.9,481.9 935.5,483.1 937.1,484.3 938.7,485.4 940.3,486.5 941.9,487.6 943.5,488.6 945.1,489.6 946.7,490.5 948.3,491.4 949.9,492.2 951.5,493.0 953.1,493.8 954.7,494.5 956.3,495.1 957.9,495.8 959.5,496.4 961.1,496.9 962.7,497.4 964.3,497.8 965.9,498.3 967.5,498.6 969.1,498.9 970.7,499.2 972.3,499.5 973.9,499.7 975.5,499.8 977.1,499.9 978.7,500.0 980.3,500.0 981.9,500.0 983.5,499.9 985.1,499.8 986.7,499.7 988.3,499.5 989.9,499.2 991.5,498.9 993.1,498.6 994.7,498.3 996.3,497.8 997.9,497.4 999.5,496.9 1001.1,496.4 1002.7,495.8 1004.3,495.1 1005.9,494.5 1007.5,493.8 1009.1,493.0 1010.7,492.2 1012.3,491.4 1013.9,490.5 1015.5,489.6 1017.1,488.6 1018.7,487.6 1020.3,486.5 1021.9,485.4 1023.5,484.3 1025.1,483.1 1026.7,481.9 1028.3,480.6 1029.9,479.3 1031.5,477.9 1033.1,476.5 1034.7,475.1 1036.3,473.6 1037.9,472.1 1039.5,470.5 1041.1,468.9 1042.7,467.2 1044.3,465.5" fill="none" stroke="#4a1a10" stroke-width="1.5" opacity="0.4"/><polyline points="916.3,492.2 917.4,493.3 918.4,494.3 919.5,495.4 920.6,496.4 921.6,497.4 922.7,498.5 923.8,499.5 924.8,500.5 925.9,501.6 927.0,502.6 928.0,503.7 929.1,504.7 930.2,505.7 931.2,506.8 932.3,507.8 933.4,508.9 934.4,509.9 935.5,510.9 936.6,512.0 937.6,513.0 938.7,514.1 939.8,515.1 940.8,516.1 941.9,517.2 943.0,518.2 944.0,519.2 945.1,520.3 946.2,521.3 947.2,522.4 948.3,523.4" fill="none" stroke="#7a2a18" stroke-width="1.5" opacity="0.7"/><polyline points="916.3,500.0 917.4,500.9 918.4,501.8 919.5,502.7 920.6,503.6 921.6,504.4 922.7,505.3 923.8,506.2 924.8,507.1 925.9,508.0 927.0,508.9 928.0,509.7 929.1,510.6 930.2,511.5 931.2,512.4 932.3,513.3 933.4,514.2 934.4,515.0 935.5,515.9 936.6,516.8 937.6,517.7 938.7,518.6 939.8,519.5 940.8,520.3 941.9,521.2 943.0,522.1 944.0,523.0 945.1,523.9 946.2,524.8 947.2,525.6 948.3,526.5" fill="none" stroke="#8a3420" stroke-width="3.5" opacity="0.75" filter="url(#blur1)"/><polyline points="1044.3,492.2 1043.2,493.3 1042.2,494.3 1041.1,495.4 1040.0,496.4 1039.0,497.4 1037.9,498.5 1036.8,499.5 1035.8,500.5 1034.7,501.6 1033.6,502.6 1032.6,503.7 1031.5,504.7 1030.4,505.7 1029.4,506.8 1028.3,507.8 1027.2,508.9 1026.2,509.9 1025.1,510.9 1024.0,512.0 1023.0,513.0 1021.9,514.1 1020.8,515.1 1019.8,516.1 1018.7,517.2 1017.6,518.2 1016.6,519.2 1015.5,520.3 1014.4,521.3 1013.4,522.4 1012.3,523.4" fill="none" stroke="#7a2a18" stroke-width="1.5" opacity="0.7"/><polyline points="1044.3,500.0 1043.2,500.9 1042.2,501.8 1041.1,502.7 1040.0,503.6 1039.0,504.4 1037.9,505.3 1036.8,506.2 1035.8,507.1 1034.7,508.0 1033.6,508.9 1032.6,509.7 1031.5,510.6 1030.4,511.5 1029.4,512.4 1028.3,513.3 1027.2,514.2 1026.2,515.0 1025.1,515.9 1024.0,516.8 1023.0,517.7 1021.9,518.6 1020.8,519.5 1019.8,520.3 1018.7,521.2 1017.6,522.1 1016.6,523.0 1015.5,523.9 1014.4,524.8 1013.4,525.6 1012.3,526.5" fill="none" stroke="#8a3420" stroke-width="3.5" opacity="0.75" filter="url(#blur1)"/></g><rect x="1059.3" y="324.6" width="7.1" height="78.6" fill="url(#afm)" stroke="#222" stroke-width="0.5"/><g font-size="7.5" fill="#333"><text x="1069" y="328.1">1</text><text x="1069" y="405.2">0</text></g><rect x="1059.3" y="445.5" width="7.1" height="77.9" fill="url(#afm)" stroke="#222" stroke-width="0.5"/><g font-size="7.5" fill="#333"><text x="1069" y="449.0">1</text><text x="1069" y="525.4">0</text></g><g font-size="8.6" fill="#3a3a3a" text-anchor="end"><text x="912.5" y="332.3">3.9</text><text x="912.5" y="367.4">4.0</text><text x="912.5" y="402.7">4.1</text><text x="912.5" y="452.3">3.9</text><text x="912.5" y="489.2">4.0</text><text x="912.5" y="521.8">4.1</text></g><text transform="translate(892,361.7) rotate(-90)" font-size="8.5" fill="#333" text-anchor="middle"><tspan font-style="italic">λ</tspan><tspan font-size="5.5" dy="2">0</tspan><tspan dy="-2"> (μm)</tspan></text><text transform="translate(892,486.6) rotate(-90)" font-size="8.5" fill="#333" text-anchor="middle"><tspan font-style="italic">λ</tspan><tspan font-size="5.5" dy="2">0</tspan><tspan dy="-2"> (μm)</tspan></text><text transform="translate(1053,364.3) rotate(-90)" font-size="9" fill="#333" text-anchor="middle"><tspan font-style="italic">ε</tspan><tspan font-size="5.5" dy="2">SCP</tspan></text><text transform="translate(1054,488) rotate(-90)" font-size="9" fill="#333" text-anchor="middle"><tspan font-style="italic">ε</tspan><tspan font-size="5.5" dy="2">LCP</tspan></text><g font-size="7.6" fill="#333" text-anchor="middle"><text x="916" y="534">−20°</text><text x="948" y="534">−10°</text><text x="977.7" y="534">0°</text><text x="1011.7" y="534">10°</text><text x="1043" y="534">20°</text></g><text x="977" y="547.5" font-size="10" font-style="italic" fill="#333" text-anchor="middle">θ<tspan font-size="6" dy="2" font-style="normal">out</tspan></text><path d="M981.15,307.46 A8.2,8.2 0 1 1 971.02,309.43" fill="none" stroke="#985560" stroke-width="1.3"/><path d="M972.43,307.74 L971.88,311.98 L968.36,309.02 Z" fill="#985560"/><path d="M973.55,428.36 A8.2,8.2 0 1 0 983.68,430.33" fill="none" stroke="#3e4e60" stroke-width="1.3"/><path d="M982.27,428.64 L986.34,429.92 L982.82,432.88 Z" fill="#3e4e60"/></g><!-- ===== borders ===== -->
<g fill="none" stroke="#2e3b3b" stroke-width="1.8" stroke-dasharray="5.2 3.4">
  <path d="M2.6,0.8 H399"/>
  <path d="M0.9,2.2 V583"/>
  <path d="M398.6,0 V583"/>
  <path d="M1,583 H398" stroke-width="1.6"/>
  <path d="M694.5,0.8 H1080"/>
  <path d="M694.5,2 V277.6"/>
  <path d="M1079,0 V277.6"/>
  <path d="M694.5,277.6 H1080" stroke-width="1.6"/>
  <path d="M406,286 H1080" stroke-width="1.6"/>
  <path d="M406,286 V584"/>
  <path d="M1079,286 V584"/>
  <path d="M406,584 H1080" stroke-width="1.8"/>
</g>

<!-- ===== donut ===== -->
<g>
  <path fill="#17628a" d="M442.61,177.25 A116.5,116.5 0 0 1 543.50,2.50 L543.50,48.50 A70.5,70.5 0 0 0 482.45,154.25 Z"/>
  <path fill="#d9d9d9" d="M543.50,2.50 A116.5,116.5 0 0 1 644.39,177.25 L604.55,154.25 A70.5,70.5 0 0 0 543.50,48.50 Z"/>
  <path fill="#767676" d="M644.39,177.25 A116.5,116.5 0 0 1 442.61,177.25 L482.45,154.25 A70.5,70.5 0 0 0 604.55,154.25 Z"/>
  <g stroke="#fff" stroke-width="7.2">
    <line x1="543.5" y1="119" x2="543.5" y2="-6"/>
    <line x1="543.5" y1="119" x2="435.25" y2="181.5"/>
    <line x1="543.5" y1="119" x2="651.75" y2="181.5"/>
  </g>
  <path id="arcF" fill="none" d="M471.41,169.47 A88,88 0 0 1 551.17,31.33"/>
  <path id="arcS" fill="none" d="M536.27,36.32 A83,83 0 0 1 611.49,166.61"/>
  <path id="arcO" fill="none" d="M451.96,161.68 A101,101 0 0 0 635.04,161.68"/>
  <text font-weight="bold" font-size="15.5" fill="#fff"><textPath href="#arcF" startOffset="50%" text-anchor="middle" textLength="127" lengthAdjust="spacingAndGlyphs">Frequency Control</textPath></text>
  <text font-weight="bold" font-size="16" fill="#111"><textPath href="#arcS" startOffset="50%" text-anchor="middle" textLength="87" lengthAdjust="spacingAndGlyphs">SAM Control</textPath></text>
  <text font-weight="bold" font-size="15.5" fill="#fff"><textPath href="#arcO" startOffset="50%" text-anchor="middle" textLength="88" lengthAdjust="spacingAndGlyphs">OAM Control</textPath></text>
  <text x="544.5" y="120.5" font-weight="bold" font-size="16.2" fill="#111" text-anchor="middle">CONTROL</text>
  <text x="544.3" y="139.8" font-weight="bold" font-size="16.2" fill="#111" text-anchor="middle">METHOD</text>
</g>

<!-- ===== connectors ===== -->
<g fill="none" stroke="#222" stroke-width="1.3" stroke-dasharray="3.5 2.5">
  <path d="M424.8,107.7 H411.1 V130.2 H398.9"/>
  <path d="M660.5,107.5 H677.7 V138.8 H694.3"/>
  <path d="M540.3,236.6 V276.6"/>
</g>
<g fill="#222">
  <circle cx="424.8" cy="107.7" r="1.9"/>
  <circle cx="398.9" cy="130.2" r="1.9"/>
  <circle cx="660.5" cy="107.5" r="1.9"/>
  <circle cx="694.3" cy="138.8" r="1.9"/>
  <circle cx="540.3" cy="236.6" r="1.9"/>
  <circle cx="540.3" cy="276.6" r="1.9"/>
</g>

<!-- ===== panel labels ===== -->
<g font-size="21" fill="#000">
  <text x="18.5" y="27.6">a</text>
  <text x="19" y="308.5">b</text>
  <text x="702" y="27.8" font-size="19.5" font-weight="bold">c</text>
  <text x="430" y="308.5" font-size="20">d</text>
  <text x="686" y="310">e</text>
</g>

</svg>
</body></html>
